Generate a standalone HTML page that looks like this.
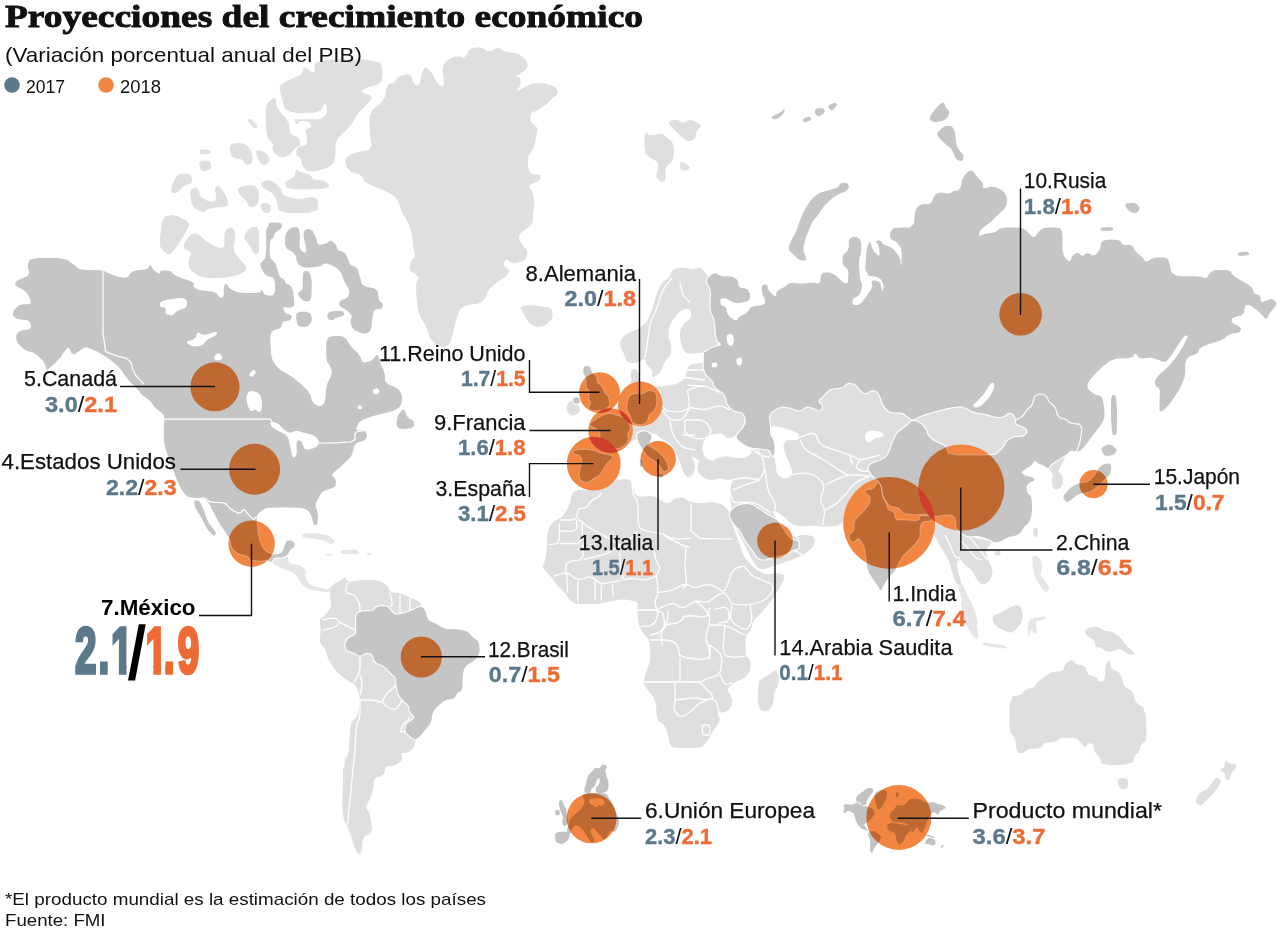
<!DOCTYPE html>
<html lang="es"><head><meta charset="utf-8"><title>Proyecciones del crecimiento económico</title>
<style>html,body{margin:0;padding:0;background:#fff}svg{display:block}text{font-family:"Liberation Sans",sans-serif;fill:#111}.l{stroke:#111;stroke-width:.25}.t{font-family:"Liberation Serif","DejaVu Serif",serif;font-weight:700}.b{font-weight:700}.bl{fill:#5c798b;stroke:#5c798b}.or{fill:#ee6b35;stroke:#ee6b35}.n{stroke-width:.35}.sl{font-weight:400;stroke:none}.ln{fill:none;stroke:#111;stroke-width:1.4}</style></head><body>
<svg width="1280" height="931" viewBox="0 0 1280 931">
<defs>
<g id="dk" stroke-linejoin="round" paint-order="stroke"><path d="M707.6 278.2 L712.9 273.8 L716.1 272.9 L718.9 275.3 L722.8 276.2 L729.8 276.2 L733.7 277.2 L736.8 279.6 L738.2 282 L738.6 286 L740.7 287.8 L745.6 288.5 L748.1 289.9 L749.5 292.6 L749.9 295.4 L749.6 299.6 L746.3 301.8 L738.2 303.2 L733.4 302.6 L729.2 299.9 L726 298.6 L722 298.2 L720.5 299.5 L720.5 303.5 L721.8 305.4 L725 306.6 L726.5 308.8 L727.2 313.2 L729.4 316.4 L734.3 319.9 L736.8 320.3 L738.2 317.9 L740.7 316 L745.6 313.5 L748.3 311.1 L750.4 307.6 L754.3 306 L762 305.3 L765 303.6 L765 300.1 L764.5 297.9 L763 295.8 L762.2 292.8 L761.5 287.2 L762.6 284.9 L766.1 284.6 L767.6 285.7 L767.9 288.8 L769.8 291.7 L774.4 295.9 L776.2 296.1 L776.2 292.6 L777.9 290.4 L782.1 288.3 L785.1 286.4 L788.6 283.6 L792.2 282.8 L797.8 283.5 L802.8 283.5 L809.8 282.8 L814.1 282.8 L818.4 283.5 L820.3 281.3 L821 275 L823.7 272.5 L830 272.5 L835.8 275.5 L844.2 283.2 L847.8 282.7 L848.5 273.6 L847.4 268.9 L843.9 266.1 L842.5 262.8 L842.5 257.2 L843.9 253.9 L847.4 251.1 L848.8 247.5 L848.8 241.2 L850.1 238.2 L853.6 236.8 L856.4 237.1 L859.9 239.2 L861.2 242.8 L861.2 249.8 L860.7 254.2 L859.3 258.4 L859 264.4 L859.7 275.6 L860.6 281.1 L862 283.9 L862 287.2 L860.6 292.8 L858.4 295.8 L854.2 297.9 L852.5 300.1 L852.5 303.6 L854.2 305 L858.4 305 L861.4 303.1 L864.9 298.2 L867.6 294.3 L871.1 289.4 L872.2 285.9 L871.5 281.6 L873.2 280.3 L878.1 281 L880.5 283.7 L882 290 L882.8 290.9 L883.5 286.6 L882.9 283.4 L880.8 279.2 L876.7 277 L868.3 275.6 L865.3 269.5 L866 255.5 L867.1 247.8 L869.2 242.2 L870.5 242.2 L872 247.8 L874.2 251.7 L878.3 255.8 L879.7 254.8 L879 247.8 L877.9 244.2 L875.8 242.1 L876.1 241 L878.9 240.3 L880.8 241.1 L882.9 243.9 L885.7 245.6 L890.6 247 L894.1 249.7 L898.4 255.3 L900.3 260 L901 266.3 L901.4 264.6 L901.8 254.1 L901 248.3 L898.5 244.2 L895.9 241.7 L891.7 239.6 L890 237.1 L890 232.9 L891.1 230.4 L893.9 228.3 L899.1 227.5 L909.6 227.5 L914 223.7 L914.7 213.9 L916.1 208.8 L918.9 205.7 L922.5 204.3 L928.8 203.9 L931.8 202.1 L933.2 197.9 L934.9 195.3 L937.7 192.9 L941.2 192.4 L947.5 193.4 L950.5 193.2 L952 191.8 L954.2 191 L958.4 190.3 L960.6 187.2 L962 180.2 L964.4 175.6 L969.3 170.7 L972.6 170.7 L976.1 175.6 L978.9 178.9 L982.4 182.4 L983.5 184.9 L982.8 187.6 L984.7 188.2 L990.3 186.8 L994.7 187.1 L1000.3 189.2 L1003.6 191.7 L1006.4 195.9 L1007.2 199.7 L1006.5 205.3 L1004.3 209.1 L999.4 213.4 L995.9 216.7 L991.7 220.9 L987.8 224.2 L982.2 228.4 L979.7 231.4 L979 234.9 L980.1 235.7 L983.6 234.3 L987.2 233.5 L992.8 232.8 L996.4 231.4 L999.9 228.6 L1005.4 227.5 L1015.9 227.5 L1021.4 228.1 L1024.9 229.4 L1027.9 231.9 L1032.1 236.8 L1035.1 236.8 L1038.6 231.9 L1041.1 229.4 L1043.9 228.1 L1048.3 227.5 L1056.7 227.5 L1060.6 228.6 L1062 231.4 L1062.5 237.4 L1062.5 250.1 L1064.2 256.6 L1068.3 260.9 L1070.5 260.9 L1072 256.6 L1073.6 254.4 L1076.4 253.1 L1078.6 253.3 L1081.4 255.4 L1083.6 255.4 L1086.4 253.3 L1088.9 253.3 L1092.4 255.4 L1095.1 254.9 L1098.6 251.4 L1100.3 248.1 L1101 243.2 L1102.6 240.9 L1106.1 239.9 L1110.2 239.6 L1117.2 239.9 L1120.5 241.1 L1122 243.9 L1124.7 245 L1130.3 245 L1133 246.4 L1134.5 249.9 L1136.7 252.6 L1140.8 256.1 L1143.3 258.6 L1145.4 261.4 L1147.9 261.4 L1152.1 258.6 L1156.8 257.5 L1164.5 257.5 L1168 259.1 L1169.5 263.4 L1170.3 266.7 L1171 270.9 L1172.6 273.3 L1176.1 275.4 L1182.5 276.2 L1195 276.2 L1201.4 276.8 L1204.9 278.2 L1207.1 277.4 L1209.2 273.9 L1211.1 271.9 L1213.9 270.6 L1218.3 270 L1226.7 270 L1230.5 271.1 L1232 273.9 L1234.7 276.4 L1240.3 279.9 L1244.7 282.6 L1250.3 286.1 L1252.8 288.9 L1253.5 292.4 L1255.1 294 L1258.6 294.7 L1260.3 296.6 L1261 300.9 L1262.6 302 L1266.1 300.6 L1268.6 299.7 L1271.4 299 L1273.6 299.9 L1276.4 302.6 L1275.8 305.7 L1271.7 310.6 L1269.2 314.1 L1267.1 318.4 L1264.9 318.4 L1261.4 314.1 L1257.8 310.9 L1252.2 306.6 L1248.9 305 L1246.1 305 L1244.7 307.2 L1244 312.8 L1241.3 315.6 L1235 316.9 L1232.2 318.6 L1231.5 321.4 L1233.5 323.6 L1239.1 326.4 L1241 328.6 L1240.3 331.4 L1237.8 332.8 L1232.2 333.5 L1228.3 335.1 L1224.2 338.6 L1219.8 340.8 L1212.8 342.9 L1207.8 344.6 L1202.2 346.7 L1199.5 348.9 L1198.1 352.4 L1195.6 354.3 L1190.7 355.7 L1187.9 357.6 L1185.8 361.1 L1185.1 365.2 L1185.4 372.2 L1184.4 377.8 L1181.6 384.8 L1179.1 389.7 L1175.6 395.3 L1172.7 399.7 L1168.6 405.3 L1165.3 408.7 L1161.2 411.8 L1159.5 410.1 L1159.5 402.9 L1159.6 397.5 L1159.9 391.2 L1159 388.2 L1156.5 386.8 L1155.4 384.9 L1155.1 381.4 L1156.1 378.6 L1158.9 375.1 L1161.7 372.4 L1165.8 368.9 L1169.2 365.6 L1173.3 360.7 L1176.7 356.3 L1180.8 350 L1183.9 344.8 L1187.4 337.8 L1187.7 335.3 L1184.8 336 L1182.4 338.5 L1178.9 344 L1175.8 348.7 L1171.7 355 L1168.9 358.6 L1166.1 361.4 L1162.8 361.7 L1157.2 359.6 L1154.2 358.5 L1152.1 357.8 L1148.8 357.8 L1142.5 358.5 L1138.9 357.4 L1136.1 353.9 L1134.5 353.7 L1133 356.8 L1128.1 358.2 L1116.9 358.6 L1109.8 360.9 L1102.8 366.6 L1097.2 371.8 L1090.2 379.5 L1087.5 383.9 L1087.5 387.4 L1089.2 390.1 L1093.3 393.6 L1096.7 395.3 L1100.9 396 L1103 400.4 L1104.5 410.9 L1104.5 416.6 L1103 420.9 L1100.9 424.7 L1096.7 430.3 L1093.3 434.7 L1089.2 440.3 L1086.1 444.2 L1082.6 448.4 L1080.2 450.6 L1077.3 451.9 L1077.1 449.8 L1079.2 442.8 L1080.4 436.7 L1081.4 428.3 L1079.2 424.7 L1072.6 424 L1069.2 422.9 L1067.1 420.8 L1064.3 419.5 L1059.4 418.1 L1057 415.3 L1055.5 409.7 L1053.6 406.4 L1050.1 403.6 L1048.2 401.1 L1046.8 397.6 L1045.2 395.9 L1042.4 394.9 L1039.9 394.9 L1036.4 395.9 L1034.5 398.4 L1033 404.1 L1031.4 407.1 L1028.6 409.2 L1026.4 411.6 L1023.6 415.9 L1021.1 418.1 L1017.6 419.5 L1015.7 418.6 L1014.3 415.1 L1012.7 413.5 L1009.9 412.8 L1007.7 413.3 L1004.9 415.4 L1002.4 416.5 L998.9 417.2 L994.8 416.7 L987.8 414.6 L982.8 413.5 L977.2 412.8 L972.8 411.4 L967.2 408.6 L963.9 407.2 L961.1 406.5 L957.8 406.5 L952.2 407.2 L947.8 408.1 L942.2 409.5 L938.1 410.6 L933.2 411.9 L929.3 413.1 L924.4 414.4 L920.3 416.1 L914.7 418.9 L911.7 419.5 L909.6 418.1 L907.4 416.4 L903.9 413.6 L899.8 412.5 L892.8 412.5 L888.6 411.1 L885.1 407.6 L883.2 404.6 L881.8 400.4 L880.4 397.1 L878.3 392.9 L876.4 391 L873.6 390.3 L870.9 390.8 L866.7 392.9 L863.9 392.9 L861.1 390.8 L858.9 388.6 L856.1 385.1 L853.3 383.5 L849.2 382.8 L846.4 383.6 L843.6 386.4 L839.8 387.8 L832.8 388.5 L828.9 389.9 L826.1 392.6 L823.4 395.4 L819.1 399.6 L818.6 402.4 L821.4 405.1 L822 407.4 L820.5 410.2 L818.4 410.4 L814.1 408.3 L811.1 407.2 L807.6 406.5 L804.9 407.4 L801.4 410.2 L797.8 410.4 L792.2 408.3 L787.8 407.2 L782.2 406.5 L777.5 407.9 L771.2 412.1 L769 416.2 L769.7 422.5 L770 427.2 L770 432.8 L770.8 436.1 L772.9 438.9 L774 442.2 L774.7 447.8 L774.5 451.6 L773.1 455.9 L772 455.9 L770.5 451.6 L768.4 449.7 L764.1 449 L759.8 448.5 L752.8 447.8 L748.9 447 L746.1 445.6 L742.8 443.4 L737.2 439.1 L736.7 435.6 L740.8 430.7 L743.3 427.4 L745.4 423.9 L745.7 420.3 L744.3 414.7 L741.8 412.2 L736.9 411.5 L733.4 409.9 L729.2 406.4 L727 402.5 L725.5 396.2 L722.8 392.4 L717.2 388.9 L714.5 385.9 L713 381.7 L710.6 378.4 L705.7 374.1 L703.8 368.1 L703.8 356.9 L703.9 352.5 L704.3 352.5 L706.3 351.4 L710.7 348.6 L714.7 347 L720.3 345.6 L721.1 343.9 L717.6 341.1 L716 335.6 L715.3 324.4 L713.9 317.8 L711.1 312.2 L710.3 305.6 L711 294.4 L710 287.8 L706.8 282.2Z"/><path d="M841.7 183 L845.9 183 L847.9 184 L848.9 186.5 L848.6 188.3 L846.9 190.4 L844.3 192 L839.4 193.8 L835.9 195.7 L831.6 198.8 L828.6 201.4 L825.1 204.9 L822.5 208.2 L819.3 213.1 L816.8 216.4 L813.7 219.9 L811.7 223.2 L809.6 228.1 L807.9 232.2 L805.8 237.8 L804.6 242.2 L803.4 247.8 L803.9 252.3 L806.1 258.2 L805.5 260.5 L801.5 260.5 L798.5 259.2 L794.5 255.8 L791.9 253.2 L789.1 250 L788.7 246.8 L790.5 241.9 L792.4 238.1 L795.2 233.2 L797.1 228.8 L799.2 222.5 L800.8 218.1 L802.9 213.2 L805.4 208.7 L809.6 202.1 L812.9 198.1 L817.1 194.4 L821.2 192.3 L827.5 190.7 L831.9 189.3 L836.8 187.7 L839 186.1 L839.7 183.9Z"/><path d="M1112.1 395 L1114.9 395 L1116.3 399.4 L1117 410.6 L1117.1 419.4 L1116.9 430.6 L1115.7 435 L1113 435 L1111.8 430.6 L1111.2 419.4 L1111 410.6 L1111 399.4Z"/><path d="M772.2 116.4 L777.8 113.6 L781.1 111.7 L783.9 109.6 L784.7 109.8 L784 112.7 L782.1 115.1 L777.9 118.6 L774.9 119.5 L771.4 118.1Z"/><path d="M804.2 118.2 L808.4 116.8 L810.3 117.1 L811 119.2 L809.6 120.7 L805.4 122.3 L803.5 122.1 L802.8 119.7Z"/><path d="M816.9 108.6 L821.8 108.2 L824 109 L824.7 111.5 L823.6 113.5 L820.1 116 L817.9 116.3 L815.8 114.5 L815 112.7 L815 109.8Z"/><path d="M829.2 105.3 L833.4 102.9 L835.6 102.7 L837 104.3 L836.1 106.4 L832.6 109.9 L830.4 110.2 L828.3 107.3Z"/><path d="M931.4 114.3 L934.9 109.4 L937.9 106.1 L942.1 102.6 L944.3 102.9 L945.7 107.1 L947.1 109.3 L949.2 110.7 L949.2 113.2 L947.1 118.1 L943.8 120.6 L937.5 121.9 L933.9 121.9 L931.1 120.6 L930 119.2 L930 117.1Z"/><path d="M937.9 132.1 L942.1 127.9 L945.4 126.1 L949.6 125.7 L952.1 126.8 L954.2 130 L955.3 134.3 L956 142 L957.1 146.4 L959.2 149.9 L960.8 152.1 L962.9 154.2 L963.5 156.4 L962.8 159.9 L961.1 161 L957.6 160.3 L955.4 157.8 L953.3 152.2 L950.9 148.6 L946.7 145.1 L943.9 142.7 L941.1 139.9 L939.2 137.7 L937.1 134.8Z"/><path d="M1126.2 203.5 L1132.5 202.8 L1136.1 203.6 L1138.9 206.4 L1139.5 208.7 L1138 211.8 L1135.8 212.9 L1131.7 212.6 L1128.6 210.6 L1125.1 205.7Z"/><path d="M1102.8 227.4 L1109.8 227.1 L1112.8 227.8 L1113.5 229.7 L1111 230.7 L1104 231.1 L1101 230.4 L1100.3 228.3Z"/><path d="M1239.7 252.2 L1245.3 251.5 L1248.1 252.1 L1249.5 254.2 L1247.5 255.3 L1241.2 256 L1238.5 255.4 L1237.8 253.3Z"/><path d="M37.7 258 L57.3 258 L67.2 259.7 L72.8 263.9 L76.1 266.5 L78.9 269 L85.1 270 L97.9 270 L104 270.7 L106.5 272.3 L109.7 273.8 L115.3 275.9 L119.7 277 L125.3 277.7 L128.1 276.9 L129.5 274.1 L131.1 272.4 L133.9 271.1 L137.8 270.2 L144.8 269.5 L148.1 268.2 L149.4 265.4 L150.8 265.6 L152.9 269.1 L155.1 271.3 L158.6 273.4 L160 273.4 L160 271.3 L162.2 270.5 L167.8 270.5 L171.1 271.6 L173.9 274.4 L177.2 276.3 L182.8 278.4 L187.2 280.1 L192.8 282.2 L194.4 283.8 L193.1 285.9 L194.2 287.6 L198.3 289.7 L203.3 290.8 L211.7 291.5 L216.1 293.1 L218.9 296.6 L220.8 297.7 L222.9 297 L223.8 294.6 L223.8 289 L224.3 285.9 L225.7 283.8 L227.1 284.4 L229.2 287.9 L232.2 290.1 L237.8 292.2 L244.4 293 L255.6 293 L260.3 292.2 L261 290.1 L262.1 290.6 L264.2 294.1 L267.2 295.5 L272.8 295.5 L275 291.7 L275 281.9 L272.8 277.4 L267.2 276.1 L263.9 273.3 L261.1 267.7 L260.3 264.8 L261 263.2 L262.4 261.4 L265.2 258.6 L266.2 249.8 L266.2 230.2 L269.6 222.5 L277.9 222.5 L281.5 223.6 L282.2 226.4 L280.9 228.6 L276.6 231.4 L274.7 233.6 L274 236.4 L272.9 238.1 L270.8 239.5 L269.9 243.9 L269.6 253.6 L270.7 258.6 L273.8 261.4 L275.6 264.1 L277 268.4 L278.1 271.6 L279.4 275.9 L281.1 278.1 L283.9 279.4 L285 280.7 L285 282.3 L286.6 283.8 L290.9 285.9 L293.1 290.9 L294.4 301.4 L293.9 306.1 L291.1 307.4 L288.4 307.7 L284.1 307 L283.1 308.1 L284.4 311.6 L286.6 313.6 L290.9 314.9 L291.9 316.6 L290.6 319.4 L288.4 320.8 L284.1 321.5 L282.2 323.1 L281.5 326.6 L279.3 328.6 L274.4 330 L271.9 331.6 L270.6 334.4 L270.3 340.4 L271 353.1 L272.6 360.2 L276.1 365.8 L280.2 369.7 L287.2 373.8 L292.2 377.1 L297.8 381.4 L302.2 385.2 L307.8 390.8 L310.6 395.2 L311.9 400.8 L314.1 403.8 L318.4 405.9 L321.1 405.9 L323.9 403.8 L325.3 399.2 L326 389.4 L327.6 382.8 L331.1 375.8 L332 371.4 L330.6 367.2 L329.2 364.4 L327.1 361.6 L326.2 355.6 L326.2 342.9 L328.2 337.4 L333.1 336.1 L337.2 335.8 L342.8 336.5 L346.1 338.7 L348.9 343.6 L352.2 347.7 L357.8 353.3 L360.6 357.2 L361.9 361.3 L364.7 362.4 L370.3 361.1 L373.6 358.9 L376.4 354.7 L378 355.2 L379.5 360.8 L381.1 365.2 L383.9 370.8 L385 375.2 L385 380.8 L387.8 384.1 L394.8 386.9 L398.6 389.6 L401.4 393.9 L402.2 397.7 L401.5 403.3 L399.9 406.6 L396.4 409.4 L392.8 411.1 L387.2 412.4 L382.8 413.5 L377.2 415 L371.7 416.6 L363.3 419.4 L358.9 422.7 L356.1 428.3 L357.2 430.5 L362.8 430.5 L365.5 431.6 L367 434.4 L367 436.6 L365.5 439.4 L362.8 441.1 L357.2 442.5 L354.7 445.2 L354 450.8 L353.8 450.7 L353.8 444.8 L353.5 445.2 L352.8 452.2 L350.9 456.7 L346.7 460.9 L343.9 463.6 L341.1 466.4 L338.9 468.3 L336.1 470.4 L334.2 472.1 L332.1 474.2 L332.4 476.1 L335.2 478.9 L336 481.7 L335.3 485.9 L332.2 488.3 L325.2 490.4 L321.7 492.6 L319.6 496.1 L317.9 499.1 L315.8 503.4 L315.7 506.7 L317.3 510.9 L317.9 515.2 L317.6 522.2 L316.7 525 L314.6 525 L313.2 522.8 L311.8 517.2 L310.4 513.9 L308.3 511.1 L305.9 509.5 L301.6 508.1 L292.9 507.5 L274.6 507.5 L265.9 508.3 L261.7 510.4 L259.2 512.4 L257.1 515.1 L256.5 518.2 L257.2 523.1 L257.8 527.8 L258.5 534.8 L259.6 539.7 L261.7 545.3 L263.6 548.6 L266.4 551.4 L269.1 553 L273.4 554.5 L276.6 554.5 L280.9 553 L283.1 550.6 L284.4 545.7 L285.6 542.9 L286.9 540.8 L288.9 540.3 L292.4 541 L294 542.4 L294.7 545.1 L293.9 547.1 L291.1 549.2 L289.5 551.1 L288.1 553.9 L286.4 555.6 L283.6 557 L280.6 557.5 L275.7 557.5 L273.2 558.6 L271.8 561.4 L270.4 562 L268.3 560.5 L265.9 560.3 L261.7 561 L257.8 561 L252.2 560.3 L249.4 559.2 L248.1 557.1 L245.3 555.7 L239.7 554.3 L236.1 552.4 L232.6 548.9 L231 545.9 L230.3 541.6 L228.9 538.1 L226.1 533.2 L223.6 529.3 L220.1 524.4 L217.7 520.3 L214.8 514.7 L212.9 510.9 L210.8 506.7 L208.9 503.6 L206.1 500.1 L203.4 498.8 L199.2 498.8 L195.3 498.5 L189.7 497.8 L185.8 495.3 L181.7 489.7 L178.9 484.8 L176.1 477.8 L173.3 470.6 L169.2 459.4 L166.7 452.2 L164.6 445.2 L163.8 439.8 L163.8 432.8 L163.8 428.5 L163.8 424.5 L164 422.2 L164.7 420.1 L164.5 417.9 L163.1 414.4 L160.8 411.9 L156.7 409.1 L153.9 406.4 L151.1 402.1 L148.3 399.4 L144.2 396.6 L141.1 393.9 L137.6 389.6 L134.3 386.1 L129.4 381.2 L125.8 376.8 L121.7 370.5 L117.8 366.1 L112.2 361.2 L107.8 357.9 L102.2 354.4 L98.9 352.5 L96.1 351 L92.8 349.7 L87.2 347.6 L83.9 347.6 L81.1 349.7 L78.4 351.6 L74.2 354.4 L71.7 353.6 L69.6 348.7 L67.9 347.6 L65.8 349.7 L63.9 352.1 L61.1 356.4 L58.4 359.6 L54.2 363.9 L51.1 366.6 L47.6 369.4 L46 368.9 L45.3 364.6 L42.8 360.8 L37.2 355.2 L32.8 352.5 L27.2 351 L23.4 348.8 L19.1 344.7 L17.1 341.4 L15.9 337.1 L16.5 334.4 L19 331.6 L22.5 330.2 L28.8 329.5 L31 327.3 L30.3 322.4 L27.3 320.2 L20.2 319.5 L16.4 318.4 L13.6 316.3 L12.8 314.4 L13.5 311.6 L15.1 309.1 L18.6 305.6 L22.5 304.2 L28.8 304.2 L31 302.9 L30.3 299.4 L28.9 296.4 L26.1 292.1 L22.7 289.4 L16.8 286.6 L14.9 284.4 L15.9 281.6 L19.3 279.4 L27 276.6 L29.5 273.3 L28 267.7 L28 263.9 L29.5 259.7Z"/><path d="M195.1 500.3 L198.6 501 L200.8 503.2 L202.9 508.1 L204.3 511.6 L205.7 515.9 L207.1 519.2 L209.2 523.4 L211.4 526.6 L214.9 530.9 L215.9 533.3 L214.9 535.4 L213.2 535.2 L210 532.4 L207.9 529.9 L205.8 526.4 L203.9 522.8 L201.1 517.2 L198.9 513.4 L196.1 509.2 L194.7 505.9 L194 501.6Z"/><path d="M286.1 233.4 L288.9 229.2 L291.9 227.4 L296.8 227.1 L299 228.8 L299.7 233.2 L299.9 238.3 L299.6 246.7 L301.3 250.8 L305.7 252.9 L306.5 249.6 L304 239.1 L303.4 233.8 L304.6 230.7 L306.4 229.3 L309.9 228.9 L312.4 230.7 L315.1 235.6 L316.5 239.2 L317.2 243.3 L319.4 244.7 L324.3 244 L327.4 242.9 L330.1 240.8 L332.4 241.1 L335.2 243.9 L336.5 246.1 L337.2 248.9 L339.1 250.6 L343.4 252 L345.8 254.2 L347.9 258.4 L349 261.1 L349.7 263.9 L351.6 265.6 L355.9 266.9 L358.1 269.7 L359.5 275.3 L360.6 279.4 L361.9 284.3 L365.8 286.8 L374.2 288.2 L377.8 291.3 L378.5 297.9 L379.9 301.3 L382.6 303.4 L383.2 305.4 L381.8 308.1 L379.9 309.2 L376.4 309.2 L374.4 310.6 L373.1 314.1 L372.2 318.8 L371.5 327.2 L369.9 331.3 L366.4 333.4 L362.2 333.2 L355.2 330.4 L351.9 327.3 L350.6 322.4 L350.6 319.4 L351.9 316.6 L350.9 314.1 L346.7 310.6 L343.6 308.4 L340.1 306.3 L339 304.4 L339.7 301.6 L341.6 300 L345.9 298.6 L348.1 296.4 L349.4 292.1 L348.9 288.9 L346.1 284.7 L343.9 280.2 L341.1 273.2 L338.4 269.4 L334.2 266.6 L330.9 264.9 L326.6 263.6 L323.9 263.8 L321.1 265.9 L316.7 267 L308.3 267.7 L303.4 267.2 L299.1 265.1 L297 261.8 L295.6 255.5 L292.8 251.9 L287.2 249.1 L285 245.1 L285 237.9Z"/><path d="M305.1 270.8 L308.6 271.5 L310.4 274.2 L311.6 280.5 L311.8 286.9 L311.4 296.7 L309.9 300.8 L306.4 301.5 L303.9 300.9 L301.1 298.8 L299.4 296.9 L298.1 294.1 L298.7 292.2 L301.8 290.1 L302.9 286.8 L302.6 280.5 L302.8 276.4 L303.5 272.2Z"/><path d="M299.3 311.8 L307 311.8 L310.6 313.7 L311.9 318.6 L311.4 321.9 L308.6 325.4 L305.6 326.8 L300.7 326.8 L298.2 325.4 L296.8 321.9 L296.2 318.6 L296.2 313.7Z"/><path d="M330.8 311.5 L339.2 310.8 L343.1 311.6 L344.5 314.4 L342.8 316.1 L337.2 317.5 L334.5 318.6 L333.1 319.9 L331.4 320.2 L328.6 319.5 L327.5 317.6 L327.5 313.4Z"/><path d="M398.9 413.9 L402.4 409.6 L404.6 410.2 L406.7 415.8 L408.9 418.6 L412.4 419.9 L413.8 422.1 L413.8 426.4 L410.7 428.3 L403 429 L399.2 428.4 L397.1 426.3 L396.5 423.3 L397.2 417.7Z"/><path d="M357.6 613.2 L361.1 611.8 L364.7 611.2 L370.3 611.2 L373.6 610.2 L376.4 607.4 L379.7 606.2 L385.3 606.2 L388.3 607.4 L390.4 610.2 L392.1 612.1 L394.2 614.2 L396.7 614.7 L400.9 614 L404.1 613.2 L408.4 611.8 L412.2 610.2 L417.8 607.4 L421.1 606.8 L423.9 608.2 L425.6 611.2 L426.9 617.5 L429.4 620.8 L434.3 622.9 L437.9 624.9 L442.1 627.6 L447.3 628.9 L456.4 629.3 L461.6 629.9 L465.9 630.9 L468.6 632.6 L471.4 636.1 L473.9 638.3 L477.4 640.4 L479 643.7 L479.7 650 L478.9 654.2 L476.1 658.4 L472.8 661.4 L467.2 664.9 L464.4 668.2 L463.1 673.1 L462.5 678.3 L462.5 686.7 L461.1 690.8 L457.6 692.9 L456 694.9 L455.3 697.6 L452.8 699 L447.2 699.7 L443.4 701.4 L439.1 704.9 L436.4 707.6 L433.6 711.1 L432.2 714.7 L431.5 720.3 L429.9 724.2 L426.4 728.3 L423.9 731.4 L421.1 734.9 L418.9 737.1 L416.1 739.2 L413.9 739.2 L411.1 737.1 L408.9 735.1 L406.1 732.4 L405.3 729.6 L406 725.4 L407.6 722.9 L411.1 720.8 L413.1 719.2 L414.4 717.1 L413.9 715.4 L411.1 713.3 L409.7 710.9 L409 706.6 L407.4 703.9 L403.9 701.1 L401.7 698.9 L399.6 696.1 L398.2 692.8 L396.8 687.2 L396.2 683.4 L396.2 679.2 L395.1 676.7 L392.4 674.6 L389.9 672.1 L386.4 667.9 L382.8 665.4 L377.2 663.3 L374.4 660.6 L373.1 655.7 L371.1 653.5 L367.6 652.8 L364.9 653.3 L361.4 655.4 L358.6 655.4 L355.1 653.3 L352.1 652 L347.9 650.5 L346 648.6 L345.3 645.1 L345.8 642.4 L347.9 638.9 L350.4 637 L354.6 635.5 L356.2 632.8 L356.2 627.2 L356.2 622.5 L356.2 616.2Z"/><path d="M585.3 366 L588.7 366 L590.4 367.5 L591.6 371.5 L593.1 373.7 L595.9 375.3 L597 377.3 L597 380.7 L598.1 382.9 L600.9 385.1 L602.7 387.5 L604.3 391.5 L605.9 393.9 L608.1 396.1 L609.2 398.8 L609.8 403.2 L608.9 406.1 L606.1 408.9 L602.6 410.2 L596.4 410.8 L592.7 410.6 L589.3 409.4 L588.7 407.7 L590.3 404.3 L590.3 401.9 L588.7 399.1 L588.4 396.5 L589.6 392.5 L589.1 390.3 L586.9 388.7 L586 386 L586 381 L585.3 377.5 L583.7 373.5 L583.2 370.7 L583.8 367.3Z"/><path d="M574.3 397.8 L577.7 397.2 L579.2 398.3 L579.8 401.7 L578.7 403.2 L575.3 403.8 L573.8 402.7 L573.2 399.3Z"/><path d="M591.3 422.1 L594.7 419.9 L597.5 418.1 L601.5 415.9 L604.5 414.6 L608.5 413.4 L611.3 413.4 L614.7 414.6 L617.5 415.4 L621.5 416.6 L624.3 418.3 L627.7 421.7 L629.4 424.3 L630.6 427.7 L630.1 430.1 L627.9 432.9 L627.4 435.3 L628.6 438.7 L628.1 441.1 L625.9 443.9 L623.7 445.9 L620.3 448.1 L617.2 448.6 L612.8 447.4 L609.5 446.6 L605.5 445.4 L603.1 443.9 L600.9 441.1 L600 438.2 L600 433.8 L598.9 431.1 L596.1 428.9 L593.9 427.6 L591.1 426.4 L590 425.3 L590 423.7Z"/><path d="M627.7 400.5 L629.3 396.5 L631.3 394.6 L634.7 393.4 L637.5 393.2 L641.5 393.8 L644.3 393.1 L647.7 390.9 L650.5 390.4 L654.5 391.6 L656.2 394.2 L656.8 399.8 L656.6 403.8 L655.4 408.2 L653.7 411.1 L650.3 413.9 L648.6 416.8 L647.4 421.2 L645.5 423.4 L641.5 424.6 L638.2 424.6 L633.8 423.4 L631.6 421.2 L630.4 416.8 L629.3 414.1 L627.7 411.9 L627 409 L627 404Z"/><path d="M574.2 450.6 L579.8 449.4 L584.4 449.2 L590.6 449.8 L594.5 450.7 L598.5 452.3 L602.4 453.4 L608.6 454.6 L611.4 455.7 L612.6 457.3 L611.9 458.9 L609.1 461.1 L607.1 463.3 L604.9 466.7 L603.1 469.5 L600.9 473.5 L598.5 475.9 L594.5 478.1 L591.7 479.9 L588.3 482.1 L585.7 482.6 L582.3 481.4 L580.6 479.7 L579.4 476.3 L579.2 473.5 L579.8 469.5 L580.4 466.7 L581.6 463.3 L581.8 460.7 L581.2 457.3 L579.5 455.6 L575.5 454.4 L573.6 453.3 L572.4 451.7Z"/><path d="M638.1 433.3 L640.9 431.7 L643.3 431.2 L646.7 431.8 L648.9 432.9 L651.1 435.1 L651.6 437.3 L650.4 440.7 L649.6 442.9 L648.4 445.1 L648.4 446 L649.6 446 L651.3 446.9 L654.7 449.1 L657.3 451.1 L660.7 453.9 L663.1 456.5 L665.9 460.5 L667.4 463.8 L668.6 468.2 L667.7 470.4 L664.3 471.6 L662.3 470.7 L660.7 467.3 L658.7 464.9 L655.3 462.1 L652.7 460.1 L649.3 457.9 L647.1 455.9 L644.9 453.1 L643.3 450.7 L641.7 447.3 L640.3 445.1 L638.7 442.9 L637.8 440.2 L637.2 435.8Z"/><path d="M658.5 473.8 L662.5 473.2 L663.8 474.1 L663.2 476.9 L661.9 477.8 L659.1 477.2 L657.8 476.3 L657.2 474.7Z"/><path d="M640.7 459 L642.3 459 L643 460.8 L643 465.2 L642.3 467 L640.7 467 L640 465.2 L640 460.8Z"/><path d="M730.7 510.9 L735.6 506.7 L740.2 504.7 L747.2 504 L752.2 505.1 L757.8 508.6 L761.7 511.1 L765.8 513.9 L769.7 516.1 L775.3 518.9 L778.6 521.6 L781.4 525.9 L783.6 529.1 L786.4 533.4 L788.6 536.1 L791.4 538.9 L793.9 540.3 L797.4 541 L798.8 542.9 L798.8 547.1 L797.4 549 L793.9 549.7 L790.8 551.1 L786.7 553.9 L782.2 555.6 L775.2 557 L770.3 558.1 L764.7 559.5 L761.4 559.5 L758.6 558.1 L756.4 555.9 L753.6 551.6 L750.9 547.8 L746.7 542.2 L743.9 537.8 L741.1 532.2 L738.4 528.4 L734.2 524.1 L731.7 520.3 L729.6 514.7Z"/><path d="M878.2 481.7 L880.6 485.1 L881.7 488.7 L882.2 494.4 L883.4 498.4 L885.8 502.7 L887.1 505.8 L888 509.1 L889.7 510.6 L893.1 511.1 L894.6 513.2 L895.1 518 L897.2 519.9 L902 519.9 L907.3 520.1 L915.9 520.6 L919.3 519.6 L919.3 516.7 L920.9 515.6 L924.7 515.6 L927.7 515.6 L931.6 515.6 L933.1 516.4 L933.1 518.3 L932.1 519.6 L929.7 521 L927.5 521.6 L924.1 521.6 L922.2 522.6 L920.8 525 L920.2 528.2 L920.2 534 L919.6 537.4 L918.2 540.2 L916.5 542.5 L913.6 545.4 L911.3 547.7 L908.5 550.5 L906.2 552.8 L903.3 555.7 L901.4 558.4 L899.5 562.2 L898 565.2 L896 569.1 L893.8 572.1 L889.9 575.9 L887.3 579.3 L884.4 584.2 L882.7 587.2 L881.3 590.1 L880.1 590.1 L878.7 587.2 L877 584.5 L874.1 580.7 L871.8 577.3 L868.9 572.5 L867.4 568.3 L866.5 562.5 L865.7 557.3 L864.7 549.6 L863.6 545.4 L861.7 542.5 L860.4 540.6 L858.9 538.7 L857.2 539.1 L854.3 542 L852.4 542.3 L850.5 540.4 L849.6 538.5 L849.1 535.6 L850 533.7 L852.9 531.8 L854.1 528.8 L854.1 523 L855.2 519.6 L858.1 516.7 L860.3 514.5 L863.2 511.6 L865.5 508.9 L868.4 505.1 L869.7 502.1 L870.2 498.2 L869.4 495.9 L867 494 L865.9 492.5 L865.4 490.6 L866.9 489.6 L871.3 489.2 L873.7 488 L875.6 485.6 L876.6 483.7 L877.1 481.3Z"/><path d="M914.1 420.7 L918.4 422.3 L921.1 424.1 L923.9 426.9 L925.9 430.2 L928.1 435.8 L931 439.1 L936 441.9 L939.8 443.8 L944.2 445.7 L946.7 448.4 L948.3 453.1 L957.4 455 L978.6 455 L989 455 L994 455 L997.8 453.2 L1002.2 448.8 L1004.7 445.7 L1006.3 442.3 L1008.5 440.1 L1012.5 437.9 L1016 437 L1021 437 L1024.1 436 L1026.9 433.6 L1027.6 431.5 L1026.4 428.6 L1023.8 426.7 L1018.2 424.8 L1016 423.1 L1016 420.9 L1017.4 419.5 L1021.1 418.1 L1023.6 415.9 L1026.4 411.6 L1028.6 409.1 L1031.4 406.9 L1033 403.8 L1034.5 398.2 L1036.3 395.7 L1039.7 394.8 L1042.1 394.8 L1044.9 395.7 L1046.6 397.4 L1048.1 401.1 L1050.1 403.6 L1053.6 406.4 L1055.5 409.7 L1057 415.3 L1059.4 418.1 L1064.1 419.5 L1066.9 420.8 L1069.1 422.9 L1072.6 424 L1079.2 424.7 L1081.4 428.3 L1080.4 436.7 L1079.1 442.6 L1076.9 449.4 L1074.9 451.6 L1072.1 450.4 L1069.9 451.1 L1067.1 453.9 L1064 456.1 L1059 458.9 L1055.5 461.2 L1051.5 464.1 L1049.7 466 L1048.9 468 L1047.5 468 L1044.5 466 L1042.3 464.9 L1039.4 464 L1037.5 462.8 L1035.6 460.9 L1034.1 461.3 L1032.1 464.2 L1030.2 466 L1027.4 468 L1025.1 469.5 L1022.2 471.4 L1021.8 472.9 L1023.7 474.8 L1026.4 476 L1031.2 476.9 L1033.5 478.1 L1034.4 480 L1033.7 481.1 L1030.8 482.1 L1028.9 483.2 L1027 485.2 L1026.4 487.4 L1026.9 491.3 L1028 493.5 L1030.4 495.5 L1031.6 498.5 L1032 504.3 L1032 508.8 L1031.6 514.6 L1030.6 518.4 L1028.7 522.2 L1027 524.5 L1024.6 526.4 L1023.1 528.3 L1021.6 531.2 L1019.9 533.1 L1017 535 L1014 536.1 L1009.2 537.1 L1006.2 538.2 L1003.3 540.1 L1000.7 541.3 L996.8 542.2 L993.8 541.9 L989.9 539.9 L987.3 538.8 L984.4 537.8 L981.8 537.1 L977.9 536.1 L974.5 535.9 L969.7 536.4 L966.1 535.7 L961.8 533.2 L959.1 531.4 L956.7 529 L955.8 526.3 L955.8 522 L955.2 519.2 L953.8 516.5 L951.9 515.3 L948.5 514.9 L944.5 515.2 L937.8 516.4 L934 516.3 L931.1 514.8 L927.6 514.4 L921.4 514.6 L915.7 514.5 L907.3 514.2 L902.9 512.7 L900.1 509.3 L896.8 507.6 L891.2 506.4 L887.7 504 L884.3 499 L882.7 494.6 L881.8 488.4 L880.5 484.7 L878 481.3 L875.7 478.7 L872.3 475.3 L870.3 472.6 L868.7 468.9 L868.7 466.7 L870.3 464.8 L873 463.3 L878 461.3 L881.5 459.8 L885.5 457.8 L887.7 455.5 L889.3 451.5 L890.8 447.8 L892.8 442.2 L894.5 438.4 L896.6 434.2 L899.2 431.4 L903.3 428.6 L906.6 425.9 L910.9 421.7Z"/><path d="M1103.2 446.7 L1108.1 444.6 L1111.7 445.1 L1115.8 448.6 L1116.7 451.1 L1114.6 453.9 L1111.8 455.3 L1106.9 456 L1104.5 455.4 L1103 453.3 L1102.2 451.4 L1101.5 448.6Z"/><path d="M1105.4 463.8 L1109.6 463.4 L1111.1 465.6 L1110.9 471.4 L1109.4 475.1 L1105.9 478.6 L1102.8 481.7 L1098.7 485.9 L1095.2 488.6 L1090.6 491.4 L1086.5 492.8 L1081 493.5 L1077.1 495.1 L1072.9 498.4 L1070.2 500.4 L1067.4 501.9 L1065.4 501.2 L1063.3 498 L1064.4 494.6 L1069.3 489.1 L1073.1 486.1 L1077.7 483.7 L1081.5 482.5 L1086.7 481.8 L1090.3 479.7 L1094.2 475.3 L1096.4 472.2 L1098.1 469 L1099.8 466.9 L1102.7 464.8Z"/></g>
<path id="ic" fill-rule="evenodd" d="M603.3 764.5 L605.4 764.9 L606.4 765.7 L606.7 767.4 L606.5 768.5 L605.4 769.6 L605.3 771.1 L606 773.9 L606.8 776.6 L608.2 780.9 L608.6 784.2 L608.3 788.4 L607.2 790.7 L604.7 792.4 L602.1 793.1 L597.9 793.1 L596.1 791.9 L595.8 788.7 L596.3 787 L598.1 785.6 L599 783.9 L599.7 781.1 L599.7 779.5 L599 778.1 L598.2 778.3 L596.8 780.4 L596 782.4 L595.3 785.1 L594.2 786.8 L592.1 788.2 L591.1 789.7 L590.8 792.2 L589.2 793.1 L585.8 793.1 L584.4 791.9 L584.4 788.7 L584.8 786.7 L585.8 784.6 L586.4 782.7 L586.7 779.9 L587.4 777.7 L588.8 774.8 L590.1 773.2 L591.8 771.8 L593.2 770.4 L594.9 768.3 L596.3 767.8 L598.1 768.5 L599.6 767.8 L601.7 765.3ZM559.6 800.5 L561.7 800.1 L562.8 801.1 L563.5 803.9 L564.3 805.8 L565.7 807.9 L566.4 810.1 L566.7 813.6 L567.1 816.1 L567.9 818.9 L567.9 821.1 L567.1 823.9 L566.2 825.3 L564.4 826 L563.3 825.4 L562.3 823.3 L562.1 821.4 L562.9 818.6 L562.7 816.4 L561.7 813.6 L560.8 811.4 L559.8 808.6 L559.2 806 L558.9 802.1ZM556 809.9 L558.4 809.5 L559.5 810.6 L559.9 813.8 L559 815.1 L556.6 815.5 L555.5 814.4 L555.1 811.2ZM558 832.2 L563.9 831.5 L567.1 832.1 L569.2 834.2 L569.6 836.1 L568.5 838.9 L567.4 840.6 L565.7 842 L564 842.9 L561.6 844 L559.5 843.8 L556.7 842.4 L555.5 840.6 L555.1 837.5 L555.1 835.4 L555.5 833.3ZM588.7 793.1 L601.3 793.1 L606.9 794.2 L608.4 797 L609.9 799.6 L612.2 803.5 L613.8 806.6 L615.4 810.9 L616.6 813.7 L618.1 816.9 L618.8 819.6 L618.9 823.5 L618.1 826.6 L615.9 830.9 L613.9 832 L611.1 830.5 L609.5 831.4 L608 834.9 L606.7 837.1 L604.6 839.2 L602.9 838.9 L600.8 836.1 L599.2 834.2 L597.1 832.1 L595.7 830.4 L594.3 828.3 L592.9 828.1 L590.8 829.5 L590.5 831.4 L592 834.9 L593.1 837.3 L594.5 840.2 L594.2 841.5 L592.1 842.2 L590.4 841.4 L588.3 838.6 L586.7 836.1 L584.6 832.6 L582.9 830.1 L580.8 827.4 L578.9 826 L576.1 825.3 L574.2 826.1 L572.1 828.9 L571 831.1 L570.3 833.9 L569.2 834.2 L567.1 832.1 L566.8 829.9 L568.2 826.4 L569 823.9 L569.7 821.1 L570.6 819.2 L572 817.1 L573.6 815.4 L576.4 813.3 L578.3 811.7 L580.4 809.6 L581.8 807.9 L583.2 805.8 L584 803.9 L584.7 801.1 L584.5 799.5 L583 798.1 L582.8 796.5 L583.5 794.1ZM590.1 799.6 L593.6 798.5 L596.7 798.3 L600.9 798.6 L603 799.6 L604.5 801.7 L604.5 803.3 L603 805.4 L601.7 806 L599.6 805.3 L598.2 805.5 L596.8 807 L595.4 807 L593.3 805.5 L592 804.7 L590.5 804 L589.7 802.9 L589 800.8ZM843.9 804.8 L845.7 804.2 L847.6 804.2 L850.7 804.8 L852.9 804.6 L855.3 803.3 L857 802.6 L858.8 802 L860.3 802.7 L862.1 805.2 L863.8 806.1 L866.3 806.1 L868.7 806.9 L872.4 808.7 L874.1 810.4 L874.7 812.8 L874.2 814.8 L872.3 817.2 L870.9 818.9 L869.1 820.8 L867.6 822 L865.8 823.2 L864.8 823.9 L864.2 824.5 L864.4 825.5 L865.7 827.3 L866.6 828.8 L867.9 830.6 L867.9 831.1 L866.6 830.5 L865.4 830 L863.6 829.4 L862.1 828.7 L860.3 827.4 L859.1 826.2 L857.9 824.4 L856.9 822.7 L855.7 820.3 L855 818.1 L854.3 815 L853.4 813.3 L851.5 812.1 L850.1 811.4 L848.2 810.8 L846.8 811.2 L845 813.1 L844 813.3 L843.4 812.1 L843.5 810.9 L844.4 809.1 L844.4 807.6 L843.5 805.8ZM858.6 794.5 L861.7 792.6 L863.6 791.2 L865.4 789.3 L867.3 788.4 L870.4 787.8 L872.1 788.2 L873.3 790.1 L873.1 791.8 L871.2 794.2 L869.8 796.2 L868 798.6 L867 800.8 L866.4 803.8 L865.2 805 L862.7 805 L860.8 804.6 L858.3 803.3 L857 802.1 L856.1 800.3 L856.1 798.6 L857 796.2ZM877.2 791.4 L880.3 790.2 L882.7 790 L885.8 790.6 L887 792 L887 795.1 L886.5 797.5 L885.2 800.6 L884 803 L882.2 806 L880.8 808 L878.9 809.8 L877.8 809.6 L876.9 807.1 L876.2 804.9 L875.3 801.9 L874.8 799.5 L874.5 796.4 L874.7 794.5 L875.6 792.6ZM870.4 831.2 L872.8 830.9 L874.8 831.4 L877.2 832.9 L878.9 834.2 L880.8 836.1 L881 837.8 L879.8 840.2 L878.6 842.2 L876.7 844.6 L875.5 846.3 L874.3 848.1 L873.5 849.8 L872.5 852.3 L871.8 853 L870.9 852.4 L870.4 850.9 L870.1 847.9 L870.1 845.5 L870.4 842.4 L870.2 840.2 L869.2 837.8 L868.6 836.1 L868 834.2 L868.1 833 L869.1 831.8ZM887.9 824.3 L890.4 823.1 L892.8 822.8 L896.5 823.4 L899.4 823.9 L903 824.5 L905.4 825 L907.9 825.6 L909.3 826.8 L910.6 829.3 L910.6 830.7 L909.3 831.9 L908.1 833.2 L906.3 835 L905.3 836.7 L904.7 839.1 L903.8 840.8 L901.9 842.7 L900.7 843.6 L899.5 844.2 L898.5 843.8 L897.3 841.9 L896.6 840 L896 836.9 L895.5 835 L894.9 833.2 L893.7 832.2 L891.2 831.6 L889.6 830.9 L888.1 829.6 L887.4 828.2 L887.1 825.7ZM890.1 814.2 L891 812.3 L892.1 811.1 L893.9 809.9 L894.9 808.7 L895.5 806.9 L896.4 805.8 L898.3 804.9 L899.7 804.9 L901.6 805.8 L903.3 805.4 L905.7 803.6 L907.2 802.1 L908.4 800.3 L909.8 799.3 L912.3 798.7 L914.7 798.6 L918.4 798.9 L920.8 799.6 L923.2 801.2 L925.2 802 L927.6 802.6 L929.5 802.6 L932 802 L933.9 802.2 L936.4 803.5 L938.5 804.2 L941.6 804.8 L943.7 805.7 L945.8 807.2 L945.8 808.1 L943.7 809.1 L942.1 809.9 L940.3 811.1 L939.3 812.3 L938.7 814.2 L938 814.7 L936.7 814.1 L935.8 813.3 L934.5 812.1 L933.3 812.1 L931.5 813.3 L930.3 814.8 L929.1 817.2 L928.1 819.2 L926.9 821.6 L926.1 823.5 L925.5 826 L924.8 827.9 L923.6 830.4 L922.6 831.8 L921.4 833 L920.4 832.6 L919.2 830.1 L918.2 828.7 L917 827.4 L916 827.7 L914.8 829.5 L913.9 831 L912.6 832.8 L911.9 832.6 L911.3 830.1 L910.6 828.4 L909.3 826.6 L908.4 825.4 L907.2 824.2 L905.7 823.4 L903.3 822.8 L901.3 822.3 L898.9 821.7 L897.4 821.7 L896.2 822.3 L895 822.3 L893.2 821.7 L891.9 820.8 L890.7 818.9 L890.1 817.5 L889.8 815.6ZM896.3 792.8 L897.9 792.1 L898.5 793 L898.5 795.8 L897.9 797 L896.3 797.3 L895.7 796.4 L895.7 794ZM928.3 835.1 L933.2 836.3 L934.9 837.1 L934.3 837.8 L932.4 837.6 L928.1 836.4 L926.4 835.6 L926.4 834.9ZM926 840.5 L927.9 838.6 L929.5 838 L932 838.3 L933.6 839.1 L935.1 840.6 L935.6 842 L935.3 844.2 L934.4 845.1 L932.6 845.5 L931.1 845.2 L929.3 844.3 L927.9 844.1 L926 844.4 L925.3 843.8 L925.3 841.9ZM941.2 846.2 L942.8 845 L943.5 844.7 L943.8 845.3 L943.4 846.2 L942.2 847.7 L941.5 848 L940.9 847Z"/>
<clipPath id="cc"><circle cx="215" cy="386.8" r="24.5"/><circle cx="254.6" cy="469.3" r="25.5"/><circle cx="251.6" cy="543.6" r="23.2"/><circle cx="421.3" cy="657" r="20.6"/><circle cx="599.5" cy="392.6" r="20.4"/><circle cx="640.3" cy="403.9" r="22.3"/><circle cx="610.6" cy="430.6" r="22.3"/><circle cx="593.7" cy="463.7" r="26.9"/><circle cx="658.2" cy="458.8" r="17.7"/><circle cx="775" cy="540.6" r="17.8"/><circle cx="889.1" cy="522.9" r="45.9"/><circle cx="961.4" cy="487.5" r="43.1"/><circle cx="1093.5" cy="484.2" r="14.1"/><circle cx="1020.6" cy="314.3" r="21.3"/><circle cx="591.6" cy="818.3" r="25"/><circle cx="898.8" cy="817.5" r="32.5"/></clipPath>
<clipPath id="c_canada"><circle cx="215" cy="386.8" r="24.5"/></clipPath>
<clipPath id="c_usa"><circle cx="254.6" cy="469.3" r="25.5"/></clipPath>
<clipPath id="c_mexico"><circle cx="251.6" cy="543.6" r="23.2"/></clipPath>
<clipPath id="c_brazil"><circle cx="421.3" cy="657" r="20.6"/></clipPath>
<clipPath id="c_uk"><circle cx="599.5" cy="392.6" r="20.4"/></clipPath>
<clipPath id="c_germany"><circle cx="640.3" cy="403.9" r="22.3"/></clipPath>
<clipPath id="c_france"><circle cx="610.6" cy="430.6" r="22.3"/></clipPath>
<clipPath id="c_spain"><circle cx="593.7" cy="463.7" r="26.9"/></clipPath>
<clipPath id="c_italy"><circle cx="658.2" cy="458.8" r="17.7"/></clipPath>
<clipPath id="c_saudi"><circle cx="775" cy="540.6" r="17.8"/></clipPath>
<clipPath id="c_india"><circle cx="889.1" cy="522.9" r="45.9"/></clipPath>
<clipPath id="c_china"><circle cx="961.4" cy="487.5" r="43.1"/></clipPath>
<clipPath id="c_japan"><circle cx="1093.5" cy="484.2" r="14.1"/></clipPath>
<clipPath id="c_russia"><circle cx="1020.6" cy="314.3" r="21.3"/></clipPath>
<clipPath id="c_eu"><circle cx="591.6" cy="818.3" r="25"/></clipPath>
<clipPath id="c_world"><circle cx="898.8" cy="817.5" r="32.5"/></clipPath>
</defs>
<rect width="1280" height="931" fill="#fff"/>
<path fill="#e6e6e6" d="M343.9 549.9 L353.7 549.6 L358.1 550.4 L359.5 552.8 L356.1 553.9 L346.4 554.3 L342 553.5 L340.5 551ZM327.6 553.8 L331.1 553.8 L332.5 554.2 L332.5 555.3 L331.1 555.8 L327.6 555.8 L326.2 555.3 L326.2 554.2ZM368 552.8 L370.5 552.8 L371.5 553.2 L371.5 554.3 L370.5 554.8 L368 554.8 L367 554.3 L367 553.2ZM305.2 533.6 L312.2 533.2 L317.8 533.4 L324.8 534.6 L329.2 536.1 L333.4 538.9 L334.5 541.1 L333.1 543.9 L330.3 543.9 L324.7 541.1 L319.8 539.6 L312.8 538.4 L308.4 537.9 L304.2 537.6 L302.5 536.7 L302.5 534.6ZM271.8 561.4 L273.2 558.6 L275.7 557.5 L280.6 557.5 L283.6 557 L286.4 555.6 L287.8 556.9 L288.5 561.8 L291.2 564 L297.5 564.7 L301.4 566.1 L304.9 568.9 L306 571.6 L305.3 575.9 L306.1 579.1 L308.9 583.4 L312.2 585.5 L317.8 587 L321.7 588 L325.9 589.5 L328.6 588.9 L331.4 586.1 L332 586.6 L330.6 590.9 L327.8 592.2 L322.2 591.5 L317.8 591 L312.2 590.3 L308.6 589.2 L305.1 587.1 L302.6 584.9 L299.9 581.4 L297.9 578.6 L295.8 575.1 L293.4 572.9 L289.1 570.8 L285.9 569.5 L281.6 568.1 L278.1 566.4 L273.2 563.6ZM1034.2 555.6 L1038.4 557 L1040.5 559.7 L1042 565.3 L1042 569.2 L1040.5 573.4 L1041.1 576.1 L1043.9 578.9 L1046.1 582.2 L1048.9 587.8 L1048.9 590.5 L1046.1 592 L1043.9 590.9 L1041.1 586.6 L1038.9 583.4 L1036.1 579.1 L1034.5 574.8 L1033 567.8 L1032.5 562.8 L1032.5 557.2ZM961.7 600 L965.8 600 L968.6 603.3 L971.4 611.7 L973.6 617.8 L976.4 624.8 L977.8 630 L978.5 636.3 L977.7 638.5 L974.8 637.8 L972.4 635.3 L968.9 629.7 L966.4 624.8 L963.6 617.8 L962 611.7 L960.6 603.3ZM983.7 642.4 L990 643.4 L995.2 644.1 L1002.2 645.1 L1005.5 646.2 L1007 648 L1004.8 648.5 L997.8 647.8 L992.2 647 L985.2 645.5 L982.2 644.3 L981.5 642.7ZM1030.1 619.5 L1033.6 618.1 L1037.5 617.2 L1043.8 616.5 L1046 617 L1045.3 618.8 L1042.8 619.9 L1037.2 620.9 L1035.6 623.7 L1037 630 L1036.7 632.8 L1034.6 633.5 L1033.2 632.4 L1031.8 628.9 L1030.7 630 L1029.3 636.3 L1028.5 636.8 L1027.8 631.9 L1027.8 627.8 L1028.5 622.2ZM958.5 583.5 L961 582.8 L963.2 585.2 L966.3 592.2 L968.6 597.2 L971.4 602.8 L973.3 607.2 L975.4 612.8 L976.6 617.2 L977.6 622.8 L977.1 625.3 L974.7 626 L972.8 624 L970.4 618.5 L968.5 614 L966 608.5 L964 604 L961.5 598.5 L959.8 593.5 L958.2 586.5Z"/>
<path fill="#dfdfdf" stroke="#dfdfdf" stroke-width="1" stroke-linejoin="round" d="M646.1 133.3 L648.9 135.4 L652.8 135.7 L659.8 134.3 L663.6 134.8 L666.4 137.7 L668.6 139.6 L671.4 141.7 L672.8 144.7 L673.5 150.3 L673.2 154.7 L671.8 160.3 L669.9 163.3 L666.4 165.4 L665 169.6 L665 177.9 L663.9 181.2 L661.1 181.2 L659.2 180.2 L657.1 177.3 L656.8 174.3 L658.2 169.4 L658.5 166.1 L657.8 162.6 L655.9 160.4 L651.6 158.3 L648.9 156.4 L646.1 153.6 L645 148.1 L645 136.9ZM670.7 121 L675.6 120.3 L678.6 120.8 L681.4 122.9 L684.2 122.9 L688.4 120.8 L691.4 120.6 L694.9 121.9 L697.4 123.3 L700.2 125.4 L700.2 127.1 L697.4 129.2 L696 131.9 L695.3 136.8 L693.4 139.3 L689.1 140.7 L685.9 139.9 L681.6 136.4 L678.9 133.9 L676.1 131.1 L673.9 128.9 L671.1 126.1 L669.7 124.2 L669 122.1ZM681.6 162.1 L685.9 164.2 L688 165.8 L689.5 167.9 L688.1 169.1 L683.2 170.1 L681 168.5 L680.3 163.3ZM389.1 84.4 L393.4 83.1 L395.6 81.4 L397 78.6 L400.2 76.7 L407.2 74.6 L410.8 76.2 L412.9 82.5 L415.1 85.3 L418.6 86 L420.8 82.1 L422.9 71.6 L425.1 68 L428.6 69.5 L431.7 73.3 L435.9 81.7 L439.1 85.5 L443.4 87 L444.5 83.1 L443.1 71.9 L443.6 65.8 L446.4 61.7 L449.7 59.2 L455.3 57.1 L459.2 56.8 L463.4 58.2 L466.1 56.6 L468.9 51 L472.2 48.5 L477.8 47.8 L482.2 48.6 L487.8 51.4 L491.6 51.4 L495.9 48.6 L499.1 48.6 L503.4 51.4 L507.8 52.8 L514.8 53.5 L519.4 55.1 L524.3 58.6 L526.5 61.7 L527.2 65.8 L525.9 68.9 L521.6 72.4 L518.4 74.3 L514.1 75.7 L514.1 76.5 L518.4 77.2 L520 79.2 L520 83.3 L518.9 86.7 L516.1 90.9 L517.8 91.1 L524.8 87.6 L528.6 85.7 L531.4 84.3 L535.2 83.8 L542.2 83.8 L547.5 84.6 L553.8 86.7 L556.5 88.9 L557.2 92.4 L555.9 95.1 L551.6 98.6 L548.9 101.1 L546.1 103.9 L543.4 106.1 L539.1 108.9 L535.9 110.5 L531.7 112 L530 114.7 L530 120.3 L531.7 123.6 L535.9 126.4 L537 130.2 L535.5 137.2 L534.5 142.2 L533.1 147.8 L531.4 151.1 L528.6 153.9 L527.5 158.3 L527.5 166.7 L528.6 171.1 L531.4 173.9 L534.1 175 L538.4 175 L540 176.1 L540 178.9 L537.2 181.1 L530.2 183.9 L528.6 186.7 L531.4 190.9 L532.8 195.2 L533.5 202.2 L533.5 206.7 L532.8 210.8 L532.5 214.7 L532.5 220.3 L531.4 223.6 L528.6 226.4 L525.9 228.7 L521.6 231.8 L519.5 234.1 L518.1 236.9 L518.6 239.7 L521.4 243.9 L523.6 246.9 L526.4 250.4 L527 253.7 L525.5 258.6 L522.2 261.1 L515.2 262.5 L510.9 261.9 L506.7 259.1 L504.5 259.7 L503 263.9 L504.1 266.6 L508.4 269.4 L508.9 271.9 L506.1 275.4 L502.8 278.1 L497.2 281.6 L493.4 284.7 L489.1 288.9 L486.9 292.1 L485.6 296.4 L483.9 299.1 L481.1 301.9 L477.2 303.3 L470.2 304 L465.9 305.1 L461.6 307.2 L459.2 310.2 L457.1 315.8 L455.4 321.3 L453.3 329.7 L451.9 335.2 L450.6 340.8 L448.9 343.8 L446.1 345.9 L443.4 346.5 L439.1 345.8 L435.9 343.9 L431.7 339.6 L429.5 335.8 L428 330.2 L425.9 325.2 L421.7 318.2 L419.5 313.3 L418.1 307.7 L417.2 300.6 L416.5 287.9 L417.1 281.9 L419.2 279.1 L418.9 276.9 L416.1 274.1 L413.9 272.4 L411.1 271.1 L410.3 268.3 L411 262.7 L412.4 259.7 L415.1 257.6 L415.7 254.8 L414.3 249.9 L413.5 244.7 L412.8 236.3 L411.4 230.1 L408.6 222.9 L406.4 218.3 L403.6 214.2 L401.4 209.2 L398.6 200.8 L394.8 195.9 L387.8 191.7 L380.6 188.4 L369.4 184.1 L364.4 180.8 L363.1 176.7 L359.2 173.9 L350.8 171.1 L347 167.2 L345.6 160.2 L347.8 156.4 L354.8 153.6 L360.8 151.9 L369.2 150.6 L372 145.6 L370.6 134.4 L370 126.2 L370 116.3 L373.3 109.8 L381.7 102.8 L385.6 96.7 L386.9 88.3ZM522.2 306.5 L527.8 305.8 L532.2 305.8 L537.8 306.5 L542.5 307 L548.8 307.7 L551.5 310.2 L552.2 315.8 L550.9 319.7 L546.6 323.9 L542.8 325.8 L537.2 326.5 L533.4 325.4 L529.1 321.9 L526.7 318.9 L524.6 314.7 L522.9 311.6 L520.8 308.1ZM282.2 83.9 L287.8 81.1 L292.8 78.9 L299.8 76.1 L302.8 73.1 L303.5 68.2 L306.2 68.2 L312.5 73.1 L315 71.7 L315 63.3 L329.3 60 L365.7 60 L380.6 63.3 L382 71.7 L382 76.9 L380.6 81.8 L376.7 84.6 L368.3 86.7 L363.9 88.6 L361.1 91.4 L362.8 93.3 L369.8 95.4 L371.4 97.9 L368.6 102.1 L365.3 105.7 L359.7 110.6 L356.4 114.7 L353.6 120.3 L350.9 124.4 L346.7 129.3 L342.8 133.2 L337.2 138.1 L335 144.4 L335 155.6 L333.9 161.4 L331.1 164.9 L327.8 167.1 L322.2 169.2 L317.2 170.3 L310.2 171 L306.4 169.9 L303.6 166.4 L302.2 163.4 L301.5 159.2 L300.1 157 L297.4 155.6 L296.5 153.4 L297.2 149.2 L299.7 146.9 L305.3 145.6 L307.5 142.8 L307.5 137.2 L306.9 133.9 L305.6 131.1 L306.6 129.5 L310.9 128.1 L311.9 126.1 L310.6 122.6 L307.8 121 L302.2 120.3 L299.2 121.1 L297.1 123.9 L296 123.3 L295.3 119.2 L292.8 115.9 L287.2 111.7 L284.4 107.2 L283.1 100.2 L281.9 95.8 L280.6 91.7 L280 88.9 L280 86.1ZM268.2 103.1 L273.1 98.2 L275.6 99.3 L277 107 L279.7 112.2 L285.3 117.8 L288.1 123.3 L289.5 131.7 L291.9 135.6 L296.8 136.9 L299 139.2 L299.7 143.4 L298.9 145.6 L296.1 146.9 L293.6 149.2 L290.1 153.4 L286.8 155.6 L281.9 157 L278.4 155.9 L274.2 151.7 L272.8 148.6 L273.5 145.1 L272.4 142.4 L268.9 138.9 L267.2 134.2 L266.5 125.8 L266.2 118.7 L266.2 108.9ZM248.3 119.9 L250.4 119.6 L252.6 121 L256.1 124.8 L256.9 126.8 L255.6 128.2 L253.4 126.8 L249.2 121.9ZM234.3 143.8 L242 143.8 L246.4 145.4 L249.9 149.6 L251.5 153.7 L252.2 160 L251.1 163.1 L247.6 164.5 L245.4 163.6 L243.3 160.1 L240.3 158.5 L234.7 157.8 L231.9 155.9 L230.6 151.7 L230.3 148.6 L231 145.1ZM257.2 150.6 L262.8 151.9 L266.1 154.2 L268.9 158.4 L268.9 161.1 L266.1 163.9 L263.9 164.5 L261.1 163.1 L258.9 159.8 L256.1 152.8ZM202.2 150 L207.8 150 L210 150.8 L210 152.9 L207.8 153.8 L202.2 153.8 L200 152.9 L200 150.8ZM202.2 161.2 L207.8 161.2 L210.3 162.9 L211 167.1 L209.3 169.3 L204.4 170.7 L202 170.2 L200.6 167.4 L200 165.2 L200 162.4ZM180.2 174.7 L187.2 174 L190.6 175.7 L191.9 180.6 L190.6 183.1 L185.7 184.5 L182.4 186.7 L178.9 190.9 L176.1 192.5 L172.6 192.5 L171.5 190.9 L172.2 186.7 L173.6 182.8 L176.4 177.2ZM191.7 189.5 L195.9 188.1 L198.1 189.7 L199.4 195.3 L202.2 198.6 L207.8 201.4 L211.7 202 L215.9 200.6 L216.9 197.2 L215.6 190.2 L216.1 187.2 L218.9 186.5 L221.6 189.3 L225.9 197 L227.5 201.4 L227.5 204.9 L223.7 206.5 L213.9 207.2 L208.4 208.6 L204.2 211.4 L200.3 211.1 L194.7 207.6 L191.9 202.7 L190.6 193.6ZM241.3 186.9 L251.2 185.6 L255.8 186.7 L257.9 190.9 L258.5 195.2 L257.8 202.2 L255.8 205.6 L251.7 206.9 L249.2 205.8 L247.1 201.7 L244.9 198.9 L241.4 196.1 L239.5 193.3 L238.1 189.2ZM263.2 181.9 L268.1 180.6 L272.2 181.7 L277.8 185.8 L280.6 189.4 L281.9 194.3 L286.4 197.1 L296.1 199.2 L302.2 199.4 L307.8 198.1 L311.6 197.8 L315.9 198.5 L317.5 201.8 L317.5 209.5 L309 212.5 L287.3 212.5 L278.5 209.8 L277.8 202.8 L276.4 198.3 L273.6 194.2 L270.3 191.4 L264.7 188.6 L262.2 186.4 L261.5 183.6ZM262.2 203.8 L267.8 203.8 L270 205.7 L270 210.6 L268.6 212.5 L265.1 212.5 L262.9 210.6 L260.8 205.7ZM287.2 181.4 L292.8 178.6 L295.3 175.6 L296 170.7 L297.1 169.6 L299.2 171.7 L302.2 173.1 L307.8 174.4 L310.6 176.1 L311.9 178.9 L315.2 180.3 L322.2 181 L326.1 182.3 L328.9 185.2 L328.4 186.8 L324.1 188.2 L314.8 188.8 L295.2 188.8 L286.9 187.4 L285.6 183.9ZM165 216.9 L171.3 215.6 L177.3 216.7 L186.4 220.9 L188.9 224.7 L186.1 230.3 L183.4 235.2 L179.2 242.2 L175.9 247.2 L171.6 252.8 L168.3 253.9 L164.2 251.1 L161.9 248.9 L160.6 246.1 L160.6 238.9 L161.9 223.6ZM191.7 234.7 L195.9 234 L200.2 236.2 L207.2 242.5 L213.3 246.1 L221.7 248.9 L225 245.6 L225 234.4 L226.7 229.4 L230.8 228.1 L233.1 229.2 L234.5 233.4 L234.5 238.3 L233.1 246.7 L233.6 251.7 L236.4 255.8 L239.2 259.1 L243.3 263.4 L245.3 266.1 L246 268.9 L244.3 271.1 L239.4 273.9 L234.2 275.6 L225.8 277 L218.1 277.5 L206.9 277.5 L199.8 275.9 L192.8 271.6 L189.7 267.8 L189 262.2 L189.6 258.4 L191.7 254.2 L190.3 251.4 L184.7 248.6 L184.1 244.8 L188.4 237.8ZM245.1 235.3 L248.6 229.7 L251.9 227.5 L256.8 227.5 L258.8 233 L258.8 247 L257.9 253.1 L255.8 254.4 L253.9 252.8 L251.1 247.2 L248.6 243.3 L245.1 239.2ZM334.2 584.2 L338.4 582.1 L341.1 580.4 L343.9 578.3 L345.6 578.6 L347 581.4 L349.7 582.2 L355.3 581.5 L359.7 581 L365.3 580.3 L370.2 580.3 L377.2 581 L381.7 582.4 L385.9 585.2 L388.1 587.6 L389.4 591.1 L392.2 592.8 L397.8 593.5 L402.2 594.6 L407.8 596.7 L412.2 598.6 L417.8 601.4 L420.3 603.6 L421 606.4 L422.1 607.8 L424.2 608.5 L425.6 611.2 L426.9 617.5 L429.4 620.8 L434.3 622.9 L437.9 624.9 L442.1 627.6 L447.3 628.9 L456.4 629.3 L461.6 629.9 L465.9 630.9 L468.6 632.6 L471.4 636.1 L473.9 638.3 L477.4 640.4 L479 643.7 L479.7 650 L478.9 654.2 L476.1 658.4 L472.8 661.4 L467.2 664.9 L464.4 668.2 L463.1 673.1 L462.5 678.3 L462.5 686.7 L461.1 690.8 L457.6 692.9 L456 694.9 L455.3 697.6 L452.8 699 L447.2 699.7 L443.4 701.4 L439.1 704.9 L436.4 707.6 L433.6 711.1 L432.2 714.7 L431.5 720.3 L429.9 724.2 L426.4 728.3 L423.9 731.4 L421.1 734.9 L418.9 737.1 L416.1 739.2 L414.7 741.7 L414 745.9 L412.4 748.6 L408.9 751.4 L405.9 752.5 L401.6 752.5 L400.6 754.2 L401.9 758.4 L400.9 761.1 L396.7 763.9 L392.8 765.3 L387.2 766 L384.7 768.2 L384 773.1 L381.5 775.5 L376 777 L373.5 780.2 L372.8 787.2 L372 791.7 L370.6 795.9 L368.9 799.7 L366.1 805.3 L364.4 809.7 L363.1 815.3 L361.9 819.1 L360.6 823.4 L359.7 826.7 L359 831 L360.6 822.5 L365.2 796.3 L366.6 790.4 L365.4 801.6 L366.1 808.2 L368.9 813.8 L370.4 819.7 L371.6 829.3 L369.9 833.7 L364.6 835.3 L362.2 840.2 L361.3 850.8 L359.9 854.1 L357.1 851.9 L354.7 846.6 L351.3 835.4 L348.4 827.7 L344.2 819.3 L342.8 803.9 L343.7 773.1 L343.9 767.4 L343.8 783.6 L344 786.7 L344.7 778.3 L345 771.7 L345 763.3 L345.8 758.9 L347.9 756.1 L349 751.7 L349.7 743.3 L350.3 736.2 L351 726.4 L352.6 721.4 L356.1 718.6 L358.1 714.8 L359.5 707.8 L360 702.8 L360 697.2 L359.2 692.8 L357.1 687.2 L354.3 683.9 L349.4 681.1 L345.3 678.3 L339.7 674.2 L335.6 669.8 L330.7 662.8 L328.2 657.8 L326.8 652.2 L324.9 648.4 L321.4 644.2 L320.3 639.8 L321 632.8 L321 627.8 L320.3 622.2 L320 620 L320 620 L321.4 618.9 L324.9 616.1 L327.6 612.8 L331.1 607.2 L332 602.8 L330.6 597.2 L330.6 592.8 L332 587.2ZM703.9 271.4 L701.1 268.6 L698.4 268.1 L694.1 269.4 L690.3 269.4 L684.7 268.1 L680.3 268.1 L674.7 269.4 L672 271.6 L670.5 275.9 L668.4 278.6 L664.1 281.4 L661.4 284.7 L658.6 290.3 L656.4 296.4 L653.6 306.1 L651.4 312.8 L648.6 319.8 L645.3 324.1 L639.7 328.4 L635.9 330.6 L631.7 332 L628.4 333.6 L624.1 336.4 L622 339.1 L620.5 343.4 L621.1 347.2 L623.9 352.8 L625.5 356.7 L627 360.9 L629.7 362.5 L635.3 362.5 L639.1 361.4 L643.4 358.6 L645.5 359.2 L647 363.4 L648.6 366.1 L651.4 368.9 L652.5 371.7 L652.5 375.9 L654.2 376.4 L658.4 373.6 L661.1 369.8 L663.9 362.8 L666.1 358.9 L668.9 356.1 L670.3 353.4 L671 349.1 L670.4 344.8 L668.3 337.8 L668 332.2 L669.5 325.2 L672.2 319.8 L677.8 312.8 L682.2 309.5 L687.8 308.1 L690.6 309.7 L692 315.3 L690.3 319.1 L684.7 323.4 L682 327.2 L680.5 332.8 L680.5 337.8 L682 344.8 L683.3 348.7 L685.4 351.8 L688.2 353 L693.1 353 L697.2 352.8 L702.8 352.2 L707.2 351.6 L712.8 350.4 L716.1 346.7 L718.9 338.3 L720 332.2 L720 325.2 L718.9 319.8 L716.1 312.8 L714.5 306.1 L713 296.4 L712 289.8 L710.6 282.8 L708.9 278.4 L706.1 274.2ZM632.6 369.9 L636.1 369.6 L638 371.8 L639.5 377.7 L638.9 380.8 L636.1 382.9 L634.2 382.6 L632.1 379.9 L631.2 376.8 L631.2 371.9ZM571.8 400.9 L576.2 403.1 L578.4 405.8 L579.6 410.2 L578.2 412.9 L573.8 415.1 L570.7 414.7 L567.3 411.3 L566.9 407.8 L569.1 402.2ZM633.5 380.3 L639 381 L643.2 382.1 L648.1 384.2 L652.2 385.6 L657.8 386.9 L663.3 386.9 L671.7 385.6 L677.2 383.9 L682.8 381.1 L685.6 377.8 L687 372.2 L688 368.9 L689.5 366.1 L691.7 364.8 L695.9 364.2 L699.4 363.8 L704.3 363.2 L707.1 362.3 L709.2 360.7 L721 362.2 L749 367.8 L779.8 370 L830.2 370 L865.4 375.5 L904.6 389.5 L944.2 395 L1005.8 395 L1030 404.9 L1030 430.1 L1023.4 446.6 L1006.6 463.4 L991.2 476.6 L968.8 493.4 L955.6 504.4 L944.4 515.6 L931.2 520 L908.8 520 L895.6 524.4 L884.4 535.6 L872.8 534.5 L854.7 520.5 L845.9 517.2 L841.7 522.8 L836.7 525.3 L828.3 526 L822.2 526 L815.2 525.3 L809.8 525.3 L802.8 526 L797.8 525.4 L792.2 523.3 L788.4 520.9 L784.2 516.6 L780.9 513.9 L776.6 511.1 L774.2 510.6 L772.1 511.9 L773.2 514.7 L778.1 520.3 L781.6 524.1 L785.9 528.4 L788.6 531.7 L791.4 535.9 L795.2 537 L802.2 535.5 L807.2 535.5 L812.8 537 L814.5 539.7 L813 545.3 L810.3 549.1 L804.7 553.4 L799.8 556.1 L792.8 558.9 L786.7 561.1 L778.3 563.9 L771.7 566.1 L763.3 568.9 L758.4 567.8 L754.2 562.2 L750.9 556.7 L746.7 548.3 L743.4 541.7 L739.1 533.3 L736.4 527.8 L733.6 522.2 L731.7 518.4 L729.6 514.1 L729.6 511.9 L731.7 510.6 L732 506.7 L730.5 498.3 L730.5 491.7 L732 483.3 L733.6 479.5 L736.4 478 L735.9 478 L731.6 479.5 L727.8 479.5 L722.2 478 L717.8 478 L712.2 479.5 L707.8 478.9 L702.2 476.1 L699.5 473.4 L698.1 469.2 L698.1 465.9 L699.5 461.6 L698.9 459.5 L696.1 458.1 L693.9 457 L691.1 455.6 L691.1 457.2 L693.9 462.8 L694.5 467.2 L693 472.8 L691.4 475.6 L688.6 476.9 L686.4 475.9 L683.6 471.7 L682 467.8 L680.5 462.2 L678.9 457.8 L676.1 452.2 L673.9 448.4 L671.1 444.2 L667.8 441.4 L662.2 438.6 L658.9 436.4 L656.1 433.6 L652.8 433.1 L647.2 434.5 L641.2 436.6 L631.4 440.9 L625.9 443.1 L621.7 444.5 L618.9 446.1 L616.1 448.9 L613.4 453.3 L609.2 461.7 L607 467.2 L605.6 472.8 L602.8 477.2 L597.2 482.8 L592.2 485.3 L585.2 486 L580.9 485.4 L576.6 483.3 L573.9 480.9 L571.1 476.6 L570 471.1 L570 461.4 L570.3 455.9 L571 451.6 L574.3 449.7 L582 449 L587.2 449 L592.8 449.7 L595.5 448.9 L597 446.1 L597 442.8 L595.5 437.2 L593.4 433.4 L589.1 429.1 L589.1 426.4 L593.4 423.6 L596.7 422 L600.9 420.6 L603.6 418.4 L606.4 414.1 L609.2 411.9 L613.4 410.6 L616.1 408.9 L618.9 406.1 L621.1 403.9 L623.9 401.1 L625.5 398.9 L627 396.1 L628.3 392.8 L630.4 387.2 L631.2 383.9 L631.2 381.1ZM574.1 492 L578.4 490.5 L582.8 490.3 L589.8 491 L594.2 489.9 L598.4 486.4 L602.2 484.5 L607.8 483.1 L612.2 482 L617.8 480.6 L622.2 479.9 L627.8 479.6 L630.6 481.3 L632 485.7 L633 489.1 L634.5 493.4 L636.1 495.6 L638.9 497 L642.8 497.2 L649.8 496.5 L654.2 497.1 L658.4 499.2 L661.7 501.1 L665.8 503.9 L669.1 503.6 L673.4 500.1 L676.6 498.5 L680.9 497.8 L684.2 498.6 L688.4 501.4 L692.2 502.8 L697.8 503.5 L702.8 503.5 L709.8 502.8 L714.7 503 L720.3 504.5 L723.6 506.1 L726.4 508.9 L728.1 511.1 L729.5 513.9 L730.8 518.3 L732.9 526.7 L734.9 532.8 L737.7 539.8 L739.6 545.2 L741.7 552.2 L744.1 557.2 L748.4 562.8 L752.2 566.6 L757.8 570.9 L761.7 573 L765.8 574.5 L769.7 574.7 L775.3 574 L779.2 574.2 L783.4 575.5 L783.9 578.3 L781.1 584 L778.3 589 L774.2 596 L769.8 602.1 L762.8 610.5 L758.4 615.4 L754.2 619.6 L752 623.5 L750.5 629 L748.9 632.1 L746.1 634.2 L745 639.7 L745 651.6 L746.1 657.1 L748.9 659.2 L750 662.2 L750 667.8 L748.9 671.7 L746.1 675.9 L742.2 678.6 L735.2 681.4 L731.1 684.2 L727.6 688.4 L727.1 691.1 L729.2 693.9 L730.5 696.7 L732 700.9 L731.4 704.4 L728.6 709.3 L725 711.5 L718.7 712.2 L717.1 714.1 L719.2 718.4 L718.9 721.7 L716.1 725.9 L713.9 729.2 L711.1 733.4 L709.2 736.7 L707.1 740.8 L704.9 743.6 L701.4 746.4 L694.5 747.5 L680.5 747.5 L673.9 747 L671.1 745.5 L669.7 742.8 L669 737.2 L667.9 732.8 L665.8 727.2 L663.4 723.9 L659.2 721.1 L657.2 715.6 L656.5 704.4 L654 697.2 L648.5 690.2 L645.7 686.4 L644.3 683.6 L644.3 680.3 L645.7 674.7 L647.4 669.8 L650.2 662.8 L651 655.6 L650.3 644.4 L648.9 638.9 L646.1 636.1 L643.6 632.8 L640.1 627.2 L638.5 619.5 L637.8 605.5 L638.6 601.9 L641.4 606.6 L641.4 606.9 L638.6 602.7 L634.2 600.5 L625.8 599.1 L619.8 599.1 L612.8 600.5 L607.2 601.6 L600.2 603 L592.5 603.5 L580 603.5 L575 603.3 L575 602.7 L573.9 602 L571.1 600.5 L568.9 598.4 L566.1 594.2 L563.4 590.9 L559.1 586.6 L555.9 582.8 L551.6 577.2 L548.4 573.4 L544.2 569.2 L543.1 566.4 L544.5 563.6 L545.6 559.8 L547 552.8 L547.5 546.1 L547.5 536.4 L548.6 530.3 L551.4 524.7 L554.7 521.4 L560.3 518.6 L564.1 514.8 L568.4 507.8 L570.6 502.2 L572 495.2ZM762.2 678.9 L767.8 676.1 L771.1 673.9 L773.9 671.1 L775.8 671.1 L777.9 673.9 L778.5 677.2 L777.8 682.8 L776.7 686.7 L774.6 690.8 L773.5 695.2 L772.8 702.2 L771.4 706.4 L768.6 709.9 L765.8 711 L761.7 710.3 L759.6 707.8 L758.4 702.2 L758.2 697.2 L758.6 690.2 L759 685.9 L759.7 681.6ZM1051.8 464.1 L1055.5 461.2 L1058.9 458.9 L1063.8 456.1 L1064.6 457.3 L1061.7 463 L1059.8 466.8 L1057.8 470.5 L1058.2 472.8 L1061.1 474.8 L1062.3 477.9 L1062.3 483.7 L1061.1 486.7 L1058.2 488.6 L1056.1 488.9 L1053.8 488 L1052.8 485.7 L1052.4 480.9 L1052.6 477.9 L1053.4 475 L1052.6 472.8 L1049.7 469.8 L1049 468 L1049.9 466ZM936.2 523.6 L942.5 526.4 L947.5 527.2 L953.8 526.5 L957.1 527.6 L959.2 531.1 L962.2 533.6 L967.8 536.4 L972.8 538 L979.8 539.5 L984.7 540.3 L990.3 541 L990.8 543.2 L986.7 548.1 L985.6 552.2 L987 557.8 L988.6 562.2 L991.4 567.8 L992 572.2 L990.6 577.8 L988.4 581.1 L984.2 583.9 L981.4 583.9 L978.6 581.1 L976.4 577.8 L973.6 572.2 L970.9 568.9 L966.7 566.1 L963.9 563.4 L961.1 559.1 L959.2 558.6 L957.1 561.4 L956.5 564.7 L957.2 570.3 L958.3 574.7 L960.4 580.3 L960.4 583 L958.3 584.5 L956.7 583.1 L954.6 578.2 L952.9 573.2 L950.8 565.5 L948.9 560.3 L946.1 554.7 L943.9 550.9 L941.1 546.6 L938.9 542.8 L936.1 537.2 L932.8 532.8 L927.2 527.2 L926.1 522.8 L928.9 517.2 L930.8 516.6 L932.9 520.9ZM1034.6 527.8 L1036.7 528.5 L1037.4 530.4 L1037.1 534.6 L1036.3 536.2 L1034.5 536.2 L1033.8 534.3 L1033.8 529.4ZM996.1 551.2 L998.9 551.2 L1000 552.1 L1000 554.2 L998.9 555 L996.1 555 L995 554.2 L995 552.1ZM1012.8 697 L1019.8 695.5 L1023.1 693.9 L1024.5 691.1 L1027.2 689.5 L1032.8 688 L1035.6 686.4 L1037 683.6 L1039.7 680.9 L1045.3 676.6 L1048.6 674.5 L1051.4 673.1 L1055 672.2 L1061.3 671.5 L1064 669.9 L1064.7 666.4 L1066.4 663.9 L1069.9 661.1 L1072.4 661.1 L1075.2 663.9 L1078.2 665.3 L1083.1 666 L1085.6 668.2 L1087 673.1 L1089.4 675.5 L1094.3 677 L1096.8 678.6 L1098.2 681.4 L1100.1 682.2 L1103.6 681.5 L1105.3 677.7 L1106 668.6 L1106.8 663.9 L1108.2 661.1 L1109.3 662.2 L1110.7 667.8 L1113.2 670.5 L1118.1 672 L1120.8 675.8 L1122.9 684.2 L1125.7 688.3 L1130.6 690.4 L1133 693.7 L1134.5 700 L1137.2 703.9 L1142.8 707.4 L1145.3 715.6 L1146 733.1 L1144.9 741.1 L1141.4 743.9 L1139.7 746.7 L1139 750.9 L1137.7 753.1 L1134.9 754.5 L1133.5 756.9 L1132.8 761.8 L1125.9 764 L1109.1 764.7 L1102 763.1 L1100.5 758.2 L1098.9 755.4 L1096.1 753.3 L1094.7 750.6 L1094 745.7 L1092.4 743.5 L1088.9 742.8 L1087 743.6 L1085.6 746.4 L1084.2 746.4 L1082.1 743.6 L1080.2 741.4 L1077.3 738.6 L1072.7 737.4 L1063.6 737.1 L1059.2 737.9 L1057.1 740.3 L1053.5 741.5 L1046.5 742.2 L1043.2 743.6 L1041.8 746.4 L1038.2 747.8 L1030.5 748.5 L1026.7 749.6 L1024.6 751.7 L1022.4 752.5 L1018.9 752.5 L1017.1 749.2 L1015.9 740.8 L1014.3 736.4 L1011.2 733.6 L1010 724.8 L1010 705.2ZM1120.2 778.8 L1125.8 778.8 L1127.9 780.7 L1127.6 785.6 L1126.4 787.9 L1123.6 789.1 L1121.7 788.8 L1119.6 787 L1118.6 784.6 L1118.2 780.4ZM1221.1 769.5 L1223.9 768 L1225.1 765.8 L1225.4 761.7 L1225.9 760.8 L1227.1 762.9 L1229.4 763.9 L1234.3 764.3 L1236 765.4 L1235.3 767.8 L1234.2 769.6 L1232.1 771.7 L1230.7 774.2 L1229.3 778.3 L1228 779.7 L1226.2 779 L1225.4 777.4 L1225.1 773.9 L1223.9 772 L1221.1 770.5ZM1197.1 798.4 L1199.2 794.1 L1201.7 792 L1205.8 790.6 L1208.6 788.4 L1211.4 784.2 L1213.3 781.5 L1215.4 779 L1217.4 778.4 L1220.2 779.6 L1220.4 781.6 L1218.3 785.9 L1216.4 788.9 L1213.6 792.4 L1211.1 795.1 L1207.6 798.6 L1205.2 801.2 L1202.3 804.3 L1200.3 805.1 L1197.9 804.1 L1196.8 802.9 L1196.4 800.8ZM1086.1 630.4 L1088.9 628.3 L1091.7 627.4 L1095.9 627.1 L1098.9 627.9 L1102.4 630.3 L1105.7 631.5 L1110.6 632.2 L1114.2 633.6 L1118.3 636.4 L1121.1 639.1 L1123.9 643.4 L1126.7 646.4 L1130.8 649.9 L1133 652 L1134.5 653.8 L1133.4 654.3 L1129.2 653.9 L1125.9 652.4 L1121.7 648.9 L1118.3 648.3 L1114.2 650.4 L1111.1 651.2 L1107.6 651.2 L1104.9 650.2 L1101.4 647.4 L1099.2 646.5 L1097.1 647.2 L1096 645.9 L1095.3 641.7 L1093.3 639.2 L1089.2 637.1 L1087 635.2 L1085.6 632.4ZM994.1 615.7 L998.4 614.3 L1002.2 612.4 L1007.8 608.9 L1011.9 607 L1016.8 605.6 L1019.6 606.7 L1021.7 610.9 L1022.2 614.7 L1021.5 620.3 L1019.9 624.1 L1016.4 628.4 L1014.2 630.6 L1012.1 632 L1009.3 631.8 L1004.4 630.2 L1000.9 628.5 L996.7 626 L994.5 623.1 L993 618.2Z"/>
<path fill="#fff" stroke="#fff" stroke-width="1" stroke-linejoin="round" d="M278.6 99.7 L281.4 105.3 L284.7 108.9 L290.3 112.4 L298.6 113.6 L314 113.2 L321.2 110.7 L324.3 104.8 L325.8 105 L326.7 111.3 L325.5 114.9 L321.5 117.7 L317.8 118.8 L312.2 118.8 L306.1 118.8 L296.4 118.8 L290.3 117.7 L284.7 114.9 L281.1 111.8 L277.6 106.9 L276.5 103.4 L277.2 99.2ZM706.3 438.8 L710.7 435.7 L714.7 434.3 L720.3 433.9 L723.3 434.9 L725.4 437.7 L727.9 438.5 L732.1 437.8 L735.1 436.1 L738.6 432.6 L741.1 431.5 L743.9 432.2 L743.9 433.9 L741.1 437.4 L741.1 440.1 L743.9 443.6 L746.1 445.7 L748.9 447.3 L750.3 449.3 L751 452.5 L749.9 454.6 L746.4 456.7 L742.8 457.5 L737.2 457.5 L732.8 457.1 L727.2 455.9 L723.4 455.9 L719.1 457.1 L716.4 458.2 L713.6 459.8 L711 459.8 L707 458.2 L704.8 455.9 L703.2 451.6 L702.9 447.8 L704.1 442.2ZM772.2 426.5 L777.8 427.2 L782.8 428.3 L789.8 430.4 L794.1 432.1 L798.4 434.2 L798.9 436.1 L796.1 438.9 L793.4 439.7 L789.1 439 L786.4 440.1 L783.6 443.6 L783 447.2 L784.5 452.8 L786.1 457.2 L788.9 462.8 L790.6 467.2 L792 472.8 L790.8 475.8 L786.7 477.9 L783.4 477.9 L779.2 475.8 L777.2 472.8 L776.5 467.2 L776 463.4 L775.3 459.2 L774.5 455.9 L773.1 451.6 L772.8 447.8 L773.5 442.2 L772.9 437 L770.8 429.3ZM866.1 434 L868.9 431.5 L872.8 430.9 L879.8 432.1 L882.8 433.3 L883.5 435.4 L881.8 436.5 L876.9 437.2 L873.9 438.6 L871.1 441.4 L869.2 442.2 L867.1 441.5 L866 439.9 L865.3 436.4Z"/>
<path fill="none" stroke="#fff" stroke-width="1.3" stroke-linejoin="round" d="M560.4 520 L564 520 L573.1 520 L577 517.5 L577.5 511.2 L579.8 508.6 L584.9 508 L587.8 506.2 L590.1 502.2 L592.8 499.7 L597.4 497.4 L599.6 495.6 L600.8 493.3 L601.2 492.4M631.8 480.2 L632.1 483.3 L632.6 491.3 L634 495.8 L636.8 499.3 L638 506.4 L638 521.3 L639.8 528 L644.3 530.3 L649.7 531.7 L658.9 532.8 L664.7 534.6 L670.4 538 L676.7 539.2 L687 538.6 L691 538.4M577.8 519 L580.7 521.2 L588.1 526.9 L594.6 531 L603.8 535.6 L610 539.1 L616.9 543.7 L620.9 545.1 L624.4 543.9 L628.4 540.8 L635.3 533.9 L638 531.2M691 503.7 L691 511.3 L691 530.7 L700 538.5 L722.9 538.8 L731.8 539M662.4 533.3 L663.3 534.2 L665.6 536.4 L670.1 539.1 L679.3 543.7 L684.4 546 L688.4 547.1 L690 547.6M559.4 523.1 L559.4 527.6 L559.4 539 L557.1 543.7 L551.4 544.3 L549.2 544.5M559.4 531.2 L563.2 531.2 L572.9 531.2 L576.7 528.8 L576.7 522.5 L576.7 520M559.4 543.5 L564.6 543.5 L577.7 543.5 L582.6 538.5 L582.1 526 L581.8 521M582.9 543.5 L582.9 547.1 L582.9 556.2 L579.3 560.2 L570.1 561.4 L566.3 564.1 L565.7 569.8 L565.5 572M582.9 559.8 L584.7 559.3 L589.2 558.2 L594.6 556.9 L603.8 554.6 L610 551.9 L616.9 547.3 L619.6 545.5M654.3 551.6 L654.7 553.9 L655.9 559.6 L657.2 563.2 L659.5 566.6 L659.5 569.8 L657.2 574.3 L656.3 576.1M619.6 551.6 L620 557.9 L621.2 573.9 L623.9 579.8 L629.6 578.6 L635 578.6 L643 579.8 L648.4 579.3 L654.1 577 L656.3 576.1M685.9 547.6 L685.7 552 L685.1 563.5 L685.3 571.6 L686.5 580.7 L686 585.2 L683.8 587.5 L682.9 588.4M686.9 584.3 L688.7 585.2 L693.3 587.5 L697.3 587.5 L703.1 585.2 L707.6 584.7 L713.3 585.9 L717.3 587.7 L721.9 591.1 L724.6 590.7 L726.9 586.1 L728.7 581.6 L730.9 574.7 L732.7 571.1 L735 568.9 L737.7 567.5 L742.3 566.4 L744.1 565.9M566.5 572 L566.8 576.5 L567.3 588 L567.6 592.4M577.8 580.2 L577.8 585.1 L577.8 597.7 L577.8 602.7M595.1 580.2 L595.1 584.7 L595.1 596.1 L595.1 600.6M601.2 584.3 L601.2 587.9 L601.2 597 L601.2 600.6M612.4 584.3 L612.7 587 L613.2 593.8 L613.5 596.5M554.3 576.1 L557 575.2 L563.8 572.9 L569 573.8 L575.3 578.4 L580.7 579.3 L588.1 577 L593.3 577.9 L599 582.5 L603.5 583.8 L609.2 582.7 L613.7 581.8 L619.4 580.7 L621.6 580.2M656.3 576.1 L656.8 579.7 L657.9 588.9 L657.5 594.7 L655.2 600.4 L655.2 604.9 L657.5 610.6 L657.5 615.6 L655.2 622.4 L650.7 625.6 L641.6 626.7 L638 627.1M658.4 592.4 L661.5 592 L669.5 590.9 L674.9 589.1 L680.6 585.6 L683.8 584.3 L686 584.3 L686.9 584.3M658.4 608.8 L661.5 607.4 L669.5 604 L674.9 604 L680.6 607.4 L685.6 607 L692.4 602.4 L697.8 601.1 L704.7 602.2 L709.1 601.3 L713.7 597.9 L717.3 595.6 L721.9 593.3 L723.7 592.4M668.6 610.8 L668.1 614 L667 622 L665.2 626.9 L661.8 631.5 L660.9 636 L662 642.8 L662.4 645.5M695.1 600.6 L698.2 603.3 L706.2 610.2 L709.4 615.6 L709.4 622.4 L708.5 627.8 L706.2 634.7 L706.2 640 L708.5 646.9 L709.4 651.9 L709.4 657.7 L709.4 660M723.7 592.4 L724.6 593.3 L726.9 595.6 L728.7 598.3 L730.9 602.9 L735.9 604.7 L746.2 604.7 L753.3 603.8 L761.3 601.5 L766.3 598.8 L770.9 594.2 L772.7 590.7 L772.7 586.1 L770.4 583.4 L764.7 581.1 L760.2 579.3 L754.5 577 L750.4 573.9 L745.9 568.2 L744.1 565.9M731.8 604.7 L731.4 608.3 L730.2 617.4 L733.4 623.3 L742.5 629 L747.5 629 L750.9 623.3 L751.8 617.4 L750.7 608.3 L750.2 604.7M715.5 608.8 L718.2 608.3 L725.1 607.2 L728.2 609.9 L729.3 617.9 L727.1 621.5 L720.2 622.6 L717.6 623.1M637.5 610 L643 610 L657 610 L663 613.3 L664.5 621.7 L663.9 626.6 L661.1 630.9 L657.8 633 L652.2 634.5 L650 635M665 625 L668.3 624.5 L676.7 623 L681.1 620.9 L683.9 616.6 L690 615.5 L702.5 617 L708 615.3 L709.5 609.7 L710 607.5M650 640 L654.4 640 L665.6 640 L671.7 641.1 L675.9 643.9 L678.1 647.8 L679.5 654.8 L686.6 658 L703.4 659.5 L710 656.7 L710 648.3 L710 645M643.8 682 L656.1 682 L687.6 682 L700 682M680 657.5 L680 662.9 L680 676.6 L680 682M675 682 L675 686 L675 696 L674.7 702.2 L674 707.8 L675.1 711.7 L678.6 715.8 L682.2 716.4 L687.8 713.6 L692.2 710.3 L697.8 704.7 L703.3 701.4 L711.7 698.6 L716.1 701.4 L718.9 711.2 L720 715M675 700 L679.4 699.5 L690.6 698.1 L697.2 698.1 L702.8 699.5 L707.2 699.5 L712.8 698.1 L711.7 694.2 L703.3 685.8 L700 682.5M700 682 L702.2 681 L707.8 678.5 L712.2 677 L717.8 675.5 L720.5 670.6 L722 659.4 L719.8 652.8 L712.8 647.2 L710 645M720 675 L721.1 677.2 L723.9 682.8 L726.6 684.5 L730.9 683 L732.5 682.5M710 625 L713.3 625 L721.7 625 L729.4 627.2 L740.6 632.8 L745 635M725 625 L724.5 631.6 L723.1 648.4 L725.2 655.6 L732.2 657 L737.2 657.2 L742.8 656.5 L745 656.2M702.5 725 L704.2 725 L708.4 725 L710 727.2 L710 732.8 L708.4 735 L704.2 735 L702.5 732.8 L702.5 727.2 L702.5 725M672.5 277.5 L670.3 280.2 L664.7 287.2 L661.1 294.4 L657.6 305.6 L654.9 312.8 L651.4 319.8 L649.5 326.9 L648 338.1 L647 345.8 L645.5 354.2 L645 357.5M680 282.5 L680.5 285.2 L682 292.2 L684.2 296.6 L688.4 300.9 L690 302.5M660 390 L660.6 394.4 L662 405.6 L666.4 410.6 L676.1 411.9 L682.2 411.4 L687.8 408.6 L689.5 403.7 L688 393.9 L687.5 390M662.5 410 L664.1 412.2 L668.4 417.8 L672.8 420 L679.8 420 L684.2 417.2 L688.4 410.2 L690 407.5M687.5 390 L690.8 388.9 L699.2 386.1 L706.4 386.6 L716.2 390.9 L720 392.5M690 407.5 L693.3 408.1 L701.7 409.5 L708.3 408.9 L716.7 406.1 L722.2 406.1 L727.8 408.9 L730 410M685 420 L689.4 420 L700.6 420 L706.6 422.8 L710.9 429.8 L710.3 434.2 L704.7 438.4 L698.7 438.9 L688.9 436.1 L685 431.7 L685 423.3 L685 420M670 420 L670.5 423.3 L672 431.7 L674.7 437.8 L680.3 444.8 L685.2 448.1 L692.2 449.4 L695 450M682.5 435 L685.2 435 L692.2 435 L695 435M685 370 L689.4 370 L700.6 370 L705 370M685 377.5 L689.4 378 L700.6 379.5 L705 380M687.5 385 L691.4 385.3 L701.1 386 L705 386.2M730 480 L733.3 479.5 L741.7 478 L748.3 478 L756.7 479.5 L761.1 477.8 L763.9 472.2 L764.5 467.2 L763 460.2 L761.4 455.9 L758.6 451.6 L757.5 450M750 447.5 L752.2 449.1 L757.8 453.4 L762.2 455.6 L767.8 457 L770 457.5M732.5 490 L735.2 488.9 L742.2 486.1 L748.3 483.9 L756.7 481.1 L760 480M765 470 L765.6 474.4 L767 485.6 L769.1 492.8 L773.4 499.8 L775 504.1 L775 508.4 L775 510M740 502.5 L743.3 502.5 L751.7 502.5 L758.3 504.7 L766.7 510.3 L770 512.5M730 490 L730.5 492.8 L732 499.8 L734.2 502.5 L738.4 502.5 L740 502.5M792.5 475 L794.7 474.4 L800.3 473.1 L805.2 473.1 L812.2 474.4 L817.2 477.2 L822.8 482.8 L823.9 488.3 L821.1 496.7 L821.1 502.2 L823.9 507.8 L824.5 513.3 L823.1 521.7 L822.5 525M825 510 L827.2 508.9 L832.8 506.1 L837.2 502.8 L842.8 497.2 L846.7 492.8 L850.9 487.2 L854.2 483.9 L858.4 481.1 L862.2 479.2 L867.8 477.1 L870 476.2M825 485 L827.2 483.9 L832.8 481.1 L837.8 478.9 L844.8 476.1 L850.2 475 L857.2 475 L862.2 475.3 L867.8 476 L870 476.2M800 440 L801.1 442.2 L803.9 447.8 L808.3 451.6 L816.7 455.9 L823.3 459.7 L831.7 465.3 L837.8 469.2 L844.8 473.4 L847.5 475M795 440 L797.2 438.9 L802.8 436.1 L807.2 434.5 L812.8 433.1 L816.1 435.2 L818.9 442.2 L823.3 446.1 L831.7 448.9 L838.3 451.1 L846.7 453.9 L852.2 456.1 L857.8 458.9 L862.2 459.5 L867.8 458.1 L872.2 457 L877.8 455.6 L880 455M860 460 L858.9 461.6 L856.1 465.9 L857.2 468.6 L862.8 471.4 L866.7 471.4 L870.9 468.6 L872.5 467.5M850 455 L850.5 457.2 L852 462.8 L852.5 465M790 530 L792.2 532.2 L797.8 537.8 L798.9 542.8 L796.1 549.8 L795 552.5M775 547.5 L778.3 547.5 L786.7 547.5 L792.8 549.1 L799.8 553.4 L802.5 555M347.5 582.5 L347 584.7 L345.6 590.3 L347.2 593.1 L352.8 594.5 L356.1 597.2 L358.9 602.8 L360 606.9 L360 611.8 L360 613.8M390 592.5 L390.5 595.2 L392 602.2 L392 605.3 L390.5 606 L390 606.2M400 595 L400 599.7 L400 611.6 L400 616.2M410 597.5 L410 600.8 L410 609.2 L410 612.5M322.5 620 L325.2 619.5 L332.2 618.1 L336.1 618.6 L338.9 621.4 L343.3 624.1 L351.7 628.4 L355 630M322.5 630 L325.2 629.5 L332.2 628 L336.1 626.4 L338.9 623.6 L340 622.5M353.8 682.5 L355.1 680.3 L358.6 674.7 L360 668.9 L360 659.8 L360 656.2M360 695 L360.6 692.8 L361.9 687.2 L361.9 682.8 L360.6 677.2 L360 675M360 700 L362.8 700 L369.8 700 L374.7 700.5 L380.3 702 L383.1 700.9 L384.5 696.7 L387.5 692.8 L393.8 687.2 L396.2 685M382.5 702.5 L383.6 703.6 L386.4 706.4 L389.4 708 L394.3 709.5 L397.6 707.8 L401.1 702.2 L402.5 700M360 700 L360 703.9 L360 713.6 L359.2 719.1 L357.1 723.4 L356 730.5 L355.3 744.5 L354.5 755.5 L353 769.5 L351.9 780.5 L350.6 794.5 L349.4 805.5 L348.1 819.5 L347.5 825M410 717.5 L408.4 719.1 L404.1 723.4 L401.9 726.6 L400.6 730.9 L401.1 732.2 L403.9 731.5 L405 731.2M945 535 L946.1 537.2 L948.9 542.8 L951.1 547.8 L953.9 554.8 L956.1 557.5 L958.9 557.5 L960 557.5M960 540 L961.7 541.6 L965.8 545.9 L969.1 549.7 L973.4 555.3 L976.6 558.1 L980.9 559.5 L982.5 560M970 537.5 L972.2 540.2 L977.8 547.2 L981.6 552.2 L985.9 557.8 L987.5 560"/>
<use href="#dk" fill="#c5c5c5" stroke="#fff" stroke-width="2.2"/>
<path fill="#fff" d="M974.6 403.2 L976.7 401.8 L979.2 399.3 L983.4 394.4 L986.1 390.6 L988.9 385.7 L990.8 383.4 L992.9 382.4 L993.9 383.2 L994.3 386.3 L993.5 389.4 L991 394.3 L988.6 397.9 L985.1 402.1 L982.4 404.6 L978.9 406.7 L976.5 407.4 L974 407.1 L973.2 406.3 L973.6 404.5ZM728.2 334.3 L731.3 333.9 L732.8 335.1 L733.7 338.6 L733.7 341.4 L732.8 344.9 L731.5 346 L729 345.3 L727.7 343.8 L726.8 340.7 L726.6 338.4 L726.9 335.6ZM737.6 357.9 L740.4 357.6 L741.7 358.6 L742.3 361.4 L742 363.3 L740.6 365.4 L739.2 365.7 L737.3 364.3 L736.5 362.5 L736.5 359.3ZM712.7 362.9 L715.8 362.6 L717.1 363.5 L717.4 366 L716.3 367.1 L713.2 367.4 L711.9 366.5 L711.6 364ZM162.2 301.2 L167.8 299.8 L172.8 298.9 L179.8 297.9 L183.6 298.2 L186.4 299.8 L187.2 302.2 L186.5 306.4 L184.3 308.6 L179.4 309.9 L176.4 311.6 L173.6 314.4 L170.9 315.2 L166.7 314.5 L165.3 312.9 L166 309.4 L164.9 307.7 L161.4 307 L160 305.7 L160 302.9ZM187.2 341.2 L192.8 339.8 L195.6 337.6 L197 333.4 L198.9 332.6 L202.4 334.7 L206.8 334.5 L214.5 332 L217.2 332 L216.5 334.5 L214.3 336.3 L209.4 338.4 L206.4 340.6 L203.6 344.1 L200.3 345.8 L194.7 346.5 L190.9 345.7 L186.7 342.9ZM214.3 357.9 L215.7 354.4 L217.4 353.3 L220.2 354 L221.5 355.4 L222.2 358.2 L221.5 359.5 L219 360.2 L217.1 360.2 L214.7 359.5ZM247.1 394.4 L249.2 391.6 L252.2 391.1 L257.8 392.5 L260.6 395.8 L261.9 402.8 L261.9 407.2 L260.6 411.3 L258.9 412.2 L256.1 410.1 L254.2 409.8 L252.1 411.2 L250.4 410.4 L248.3 406.9 L247.2 403.3 L246.5 397.7ZM249.9 373.2 L252.7 370.3 L254.3 370.1 L255.7 372.2 L255.2 374 L252.3 376.5 L250.7 376.8 L249.3 375ZM271.6 422 L275.9 422.7 L279.2 424.6 L283.4 428.9 L286.1 431.1 L288.9 432.4 L291.4 432.4 L294.9 431.1 L298.2 431.1 L303.1 432.4 L307.2 433.6 L312.8 434.9 L316.1 437.1 L318.9 441.4 L318.9 444.1 L316.1 446.9 L312.8 448.6 L307.2 449.9 L304.2 448.3 L302.1 442.7 L300.1 440.5 L297.4 440.5 L296.4 443.8 L296.8 452.2 L296 456.1 L293.5 457.4 L291.9 455.2 L290.6 448.2 L289.5 443.3 L288.1 437.7 L285.3 434.4 L279.7 431.6 L276.1 429.7 L272.6 427.6 L271 425.6 L270.3 422.9ZM374.6 389 L376.7 388.3 L378 388.8 L379.5 390.9 L379.2 392.5 L377.1 394.3 L375.4 394.6 L373.3 393.4 L372.8 392.2 L373.5 390.1ZM358.3 405.5 L360.4 405.5 L361.4 406.3 L361.8 408.4 L361.1 409.2 L358.9 409.2 L357.9 408.4 L357.6 406.3Z"/>
<path fill="none" stroke="#fff" stroke-width="1.2" stroke-linejoin="round" d="M103 270 L103 287.7 L103 332.8 L105.6 351.6 L112.4 354.4 L118.3 356.3 L126.7 358.4 L130.8 362.3 L132.9 370 L135.9 375.5 L141.6 381.8 L143.8 384.2M165 419.2 L188.1 419.2 L246.9 419.2 L270 419.2 L270 419.2 L271.6 421.2 L275.9 426.1 L277.5 428M315 443 L319.4 443 L330.6 443 L339.4 442.7 L350.6 442 L355 439.6 L355 433.9 L357.2 431.5 L362.8 430.8 L365 430.5M187.5 497.5 L189.7 497.8 L195.3 498.5 L199.2 498.5 L203.4 497.8 L206.1 498.6 L208.9 501.4 L213.3 502.5 L221.7 502.5 L226.4 504.1 L229.9 508.4 L233.2 510.8 L238.1 512.9 L240.8 512.6 L242.9 509.9 L244.8 510.1 L247.7 513.6 L249.9 516.1 L252.7 518.9 L254.3 519.2 L255.7 517.1 L256.2 516.2"/>
<use href="#ic" fill="#c2c2c2"/>
<circle cx="215" cy="386.8" r="24.5" fill="#f28540"/>
<circle cx="254.6" cy="469.3" r="25.5" fill="#f28540"/>
<circle cx="251.6" cy="543.6" r="23.2" fill="#f28540"/>
<circle cx="421.3" cy="657" r="20.6" fill="#f28540"/>
<circle cx="599.5" cy="392.6" r="20.4" fill="#f28540"/>
<circle cx="640.3" cy="403.9" r="22.3" fill="#f28540"/>
<circle cx="610.6" cy="430.6" r="22.3" fill="#f28540"/>
<circle cx="593.7" cy="463.7" r="26.9" fill="#f28540"/>
<circle cx="658.2" cy="458.8" r="17.7" fill="#f28540"/>
<circle cx="775" cy="540.6" r="17.8" fill="#f28540"/>
<circle cx="889.1" cy="522.9" r="45.9" fill="#f28540"/>
<circle cx="961.4" cy="487.5" r="43.1" fill="#f28540"/>
<circle cx="1093.5" cy="484.2" r="14.1" fill="#f28540"/>
<circle cx="1020.6" cy="314.3" r="21.3" fill="#f28540"/>
<circle cx="591.6" cy="818.3" r="25" fill="#f28540"/>
<circle cx="898.8" cy="817.5" r="32.5" fill="#f28540"/>
<g clip-path="url(#cc)"><g opacity="0.215"><use href="#dk" fill="#000"/><use href="#ic" fill="#000"/></g>
<use href="#dk" fill="none" stroke="#fff" stroke-opacity="0.25" stroke-width="1.2"/>
</g>
<g clip-path="url(#c_india)"><circle cx="961.4" cy="487.5" r="43.1" fill="#cf3d2c"/></g>
<g clip-path="url(#c_uk)"><circle cx="610.6" cy="430.6" r="22.3" fill="#cf3d2c"/></g>
<g clip-path="url(#c_germany)"><circle cx="610.6" cy="430.6" r="22.3" fill="#cf3d2c"/></g>
<g clip-path="url(#c_france)"><circle cx="593.7" cy="463.7" r="26.9" fill="#cf3d2c"/></g>
<g clip-path="url(#c_uk)"><circle cx="640.3" cy="403.9" r="22.3" fill="#cf3d2c"/></g>
<polyline class="ln" points="120,386.5 215,386.5"/>
<polyline class="ln" points="180.5,469.3 255.5,469.3"/>
<polyline class="ln" points="199,615.5 251.5,615.5 251.5,543.7"/>
<polyline class="ln" points="421,656.8 485,656.8"/>
<polyline class="ln" points="639.5,279 639.5,404"/>
<polyline class="ln" points="529.5,360 529.5,392.3 599.5,392.3"/>
<polyline class="ln" points="529.5,430.5 610.5,430.5"/>
<polyline class="ln" points="529.5,497 529.5,463.6 593.5,463.6"/>
<polyline class="ln" points="658,459 658,550"/>
<polyline class="ln" points="775,540.5 775,655.5"/>
<polyline class="ln" points="889.2,532.5 889.2,601.5"/>
<polyline class="ln" points="960.8,487.5 960.8,550 1052.5,550"/>
<polyline class="ln" points="1093.5,484.2 1150,484.2"/>
<polyline class="ln" points="1020.5,188.5 1020.5,315"/>
<polyline class="ln" points="591.3,818.3 641.3,818.3"/>
<polyline class="ln" points="897.5,818.3 968.8,818.3"/>
<text class="t" x="5" y="27" font-size="32" stroke="#111" stroke-width=".9" textLength="638" lengthAdjust="spacingAndGlyphs">Proyecciones del crecimiento económico</text>
<text x="5" y="62" font-size="21" textLength="357" lengthAdjust="spacingAndGlyphs">(Variación porcentual anual del PIB)</text>
<circle cx="12" cy="85" r="7.8" fill="#5c798b"/><text x="26" y="92.5" font-size="18.5" textLength="39" lengthAdjust="spacingAndGlyphs">2017</text>
<circle cx="106" cy="85" r="7.8" fill="#f28540"/><text x="120" y="92.5" font-size="18.5" textLength="41" lengthAdjust="spacingAndGlyphs">2018</text>
<text class="l" x="24" y="386" font-size="22.6" textLength="93" lengthAdjust="spacingAndGlyphs">5.Canadá</text>
<text class="l" x="1.5" y="469" font-size="22.6" textLength="174.5" lengthAdjust="spacingAndGlyphs">4.Estados Unidos</text>
<text class="l" x="525.5" y="280.5" font-size="22.6" textLength="110.5" lengthAdjust="spacingAndGlyphs">8.Alemania</text>
<text class="l" x="379" y="360.5" font-size="22.6" textLength="146.5" lengthAdjust="spacingAndGlyphs">11.Reino Unido</text>
<text class="l" x="434" y="430" font-size="22.6" textLength="91.5" lengthAdjust="spacingAndGlyphs">9.Francia</text>
<text class="l" x="435.5" y="496" font-size="22.6" textLength="90.2" lengthAdjust="spacingAndGlyphs">3.España</text>
<text class="l" x="578.8" y="549.6" font-size="22.6" textLength="74.5" lengthAdjust="spacingAndGlyphs">13.Italia</text>
<text class="l" x="488" y="656.8" font-size="22.6" textLength="80.8" lengthAdjust="spacingAndGlyphs">12.Brasil</text>
<text class="l" x="779.3" y="655.3" font-size="22.6" textLength="173.2" lengthAdjust="spacingAndGlyphs">14.Arabia Saudita</text>
<text class="l" x="892.5" y="600.5" font-size="22.6" textLength="63.8" lengthAdjust="spacingAndGlyphs">1.India</text>
<text class="l" x="1056" y="550" font-size="22.6" textLength="73.3" lengthAdjust="spacingAndGlyphs">2.China</text>
<text class="l" x="1153.8" y="484" font-size="22.6" textLength="86.2" lengthAdjust="spacingAndGlyphs">15.Japón</text>
<text class="l" x="1023.8" y="188.3" font-size="22.6" textLength="82.5" lengthAdjust="spacingAndGlyphs">10.Rusia</text>
<text class="l" x="645" y="818.3" font-size="22.6" textLength="170" lengthAdjust="spacingAndGlyphs">6.Unión Europea</text>
<text class="l" x="972.5" y="818.3" font-size="22.6" textLength="189.5" lengthAdjust="spacingAndGlyphs">Producto mundial*</text>
<text class="b n" x="45" y="411.8" font-size="21.6" textLength="72" lengthAdjust="spacingAndGlyphs"><tspan class="bl">3.0</tspan><tspan class="sl">/</tspan><tspan class="or">2.1</tspan></text>
<text class="b n" x="106" y="494.5" font-size="21.6" textLength="70.5" lengthAdjust="spacingAndGlyphs"><tspan class="bl">2.2</tspan><tspan class="sl">/</tspan><tspan class="or">2.3</tspan></text>
<text class="b n" x="564.5" y="305.5" font-size="21.6" textLength="71.5" lengthAdjust="spacingAndGlyphs"><tspan class="bl">2.0</tspan><tspan class="sl">/</tspan><tspan class="or">1.8</tspan></text>
<text class="b n" x="461" y="385.5" font-size="21.6" textLength="64.5" lengthAdjust="spacingAndGlyphs"><tspan class="bl">1.7</tspan><tspan class="sl">/</tspan><tspan class="or">1.5</tspan></text>
<text class="b n" x="458" y="455" font-size="21.6" textLength="67.5" lengthAdjust="spacingAndGlyphs"><tspan class="bl">1.6</tspan><tspan class="sl">/</tspan><tspan class="or">1.8</tspan></text>
<text class="b n" x="458" y="521" font-size="21.6" textLength="68" lengthAdjust="spacingAndGlyphs"><tspan class="bl">3.1</tspan><tspan class="sl">/</tspan><tspan class="or">2.5</tspan></text>
<text class="b n" x="591.7" y="575.3" font-size="21.6" textLength="61.6" lengthAdjust="spacingAndGlyphs"><tspan class="bl">1.5</tspan><tspan class="sl">/</tspan><tspan class="or">1.1</tspan></text>
<text class="b n" x="488.8" y="681.5" font-size="21.6" textLength="71.2" lengthAdjust="spacingAndGlyphs"><tspan class="bl">0.7</tspan><tspan class="sl">/</tspan><tspan class="or">1.5</tspan></text>
<text class="b n" x="779.3" y="680.3" font-size="21.6" textLength="63.2" lengthAdjust="spacingAndGlyphs"><tspan class="bl">0.1</tspan><tspan class="sl">/</tspan><tspan class="or">1.1</tspan></text>
<text class="b n" x="892.5" y="626.3" font-size="21.6" textLength="73.3" lengthAdjust="spacingAndGlyphs"><tspan class="bl">6.7</tspan><tspan class="sl">/</tspan><tspan class="or">7.4</tspan></text>
<text class="b n" x="1056.2" y="575" font-size="21.6" textLength="76.3" lengthAdjust="spacingAndGlyphs"><tspan class="bl">6.8</tspan><tspan class="sl">/</tspan><tspan class="or">6.5</tspan></text>
<text class="b n" x="1155" y="509.5" font-size="21.6" textLength="69.5" lengthAdjust="spacingAndGlyphs"><tspan class="bl">1.5</tspan><tspan class="sl">/</tspan><tspan class="or">0.7</tspan></text>
<text class="b n" x="1023.8" y="214.3" font-size="21.6" textLength="68.2" lengthAdjust="spacingAndGlyphs"><tspan class="bl">1.8</tspan><tspan class="sl">/</tspan><tspan class="or">1.6</tspan></text>
<text class="b n" x="645" y="843.8" font-size="21.6" textLength="67" lengthAdjust="spacingAndGlyphs"><tspan class="bl">2.3</tspan><tspan class="sl">/</tspan><tspan class="or">2.1</tspan></text>
<text class="b n" x="972.5" y="843.8" font-size="21.6" textLength="73" lengthAdjust="spacingAndGlyphs"><tspan class="bl">3.6</tspan><tspan class="sl">/</tspan><tspan class="or">3.7</tspan></text>
<text class="b" x="101" y="615.4" font-size="22.7" textLength="94.5" lengthAdjust="spacingAndGlyphs" style="fill:#000">7.México</text>
<clipPath id="k1"><path clip-rule="evenodd" d="M0 600H300V700H0Z M110 663.6H118.9V678H110Z M126.45 663.6H134V678H126.45Z"/></clipPath><g clip-path="url(#k1)"><text class="b bl" transform="scale(0.6,1)" x="125.0 164.2 185.0" y="672.8" font-size="64.5" stroke-width="3.6" stroke-linejoin="miter" style="stroke:#5c798b">2.1</text></g>
<text class="b" transform="translate(127.5,678.5) skewX(-2.3) scale(.79,1)" font-size="75.6" style="fill:#000">/</text>
<clipPath id="k2"><path clip-rule="evenodd" d="M0 600H300V700H0Z M144.5 663.6H153.4V678H144.5Z M160.95 663.6H165.45V678H160.95Z"/></clipPath><g clip-path="url(#k2)"><text class="b or" transform="scale(0.6,1)" x="242.5 273.3 296.3" y="672.8" font-size="64.5" stroke-width="3.6" stroke-linejoin="miter" style="stroke:#ee6b35">1.9</text></g>
<text x="5" y="905" font-size="17" textLength="481" lengthAdjust="spacingAndGlyphs">*El producto mundial es la estimación de todos los países</text>
<text x="5" y="925.8" font-size="17" textLength="100.5" lengthAdjust="spacingAndGlyphs">Fuente: FMI</text>
</svg></body></html>
